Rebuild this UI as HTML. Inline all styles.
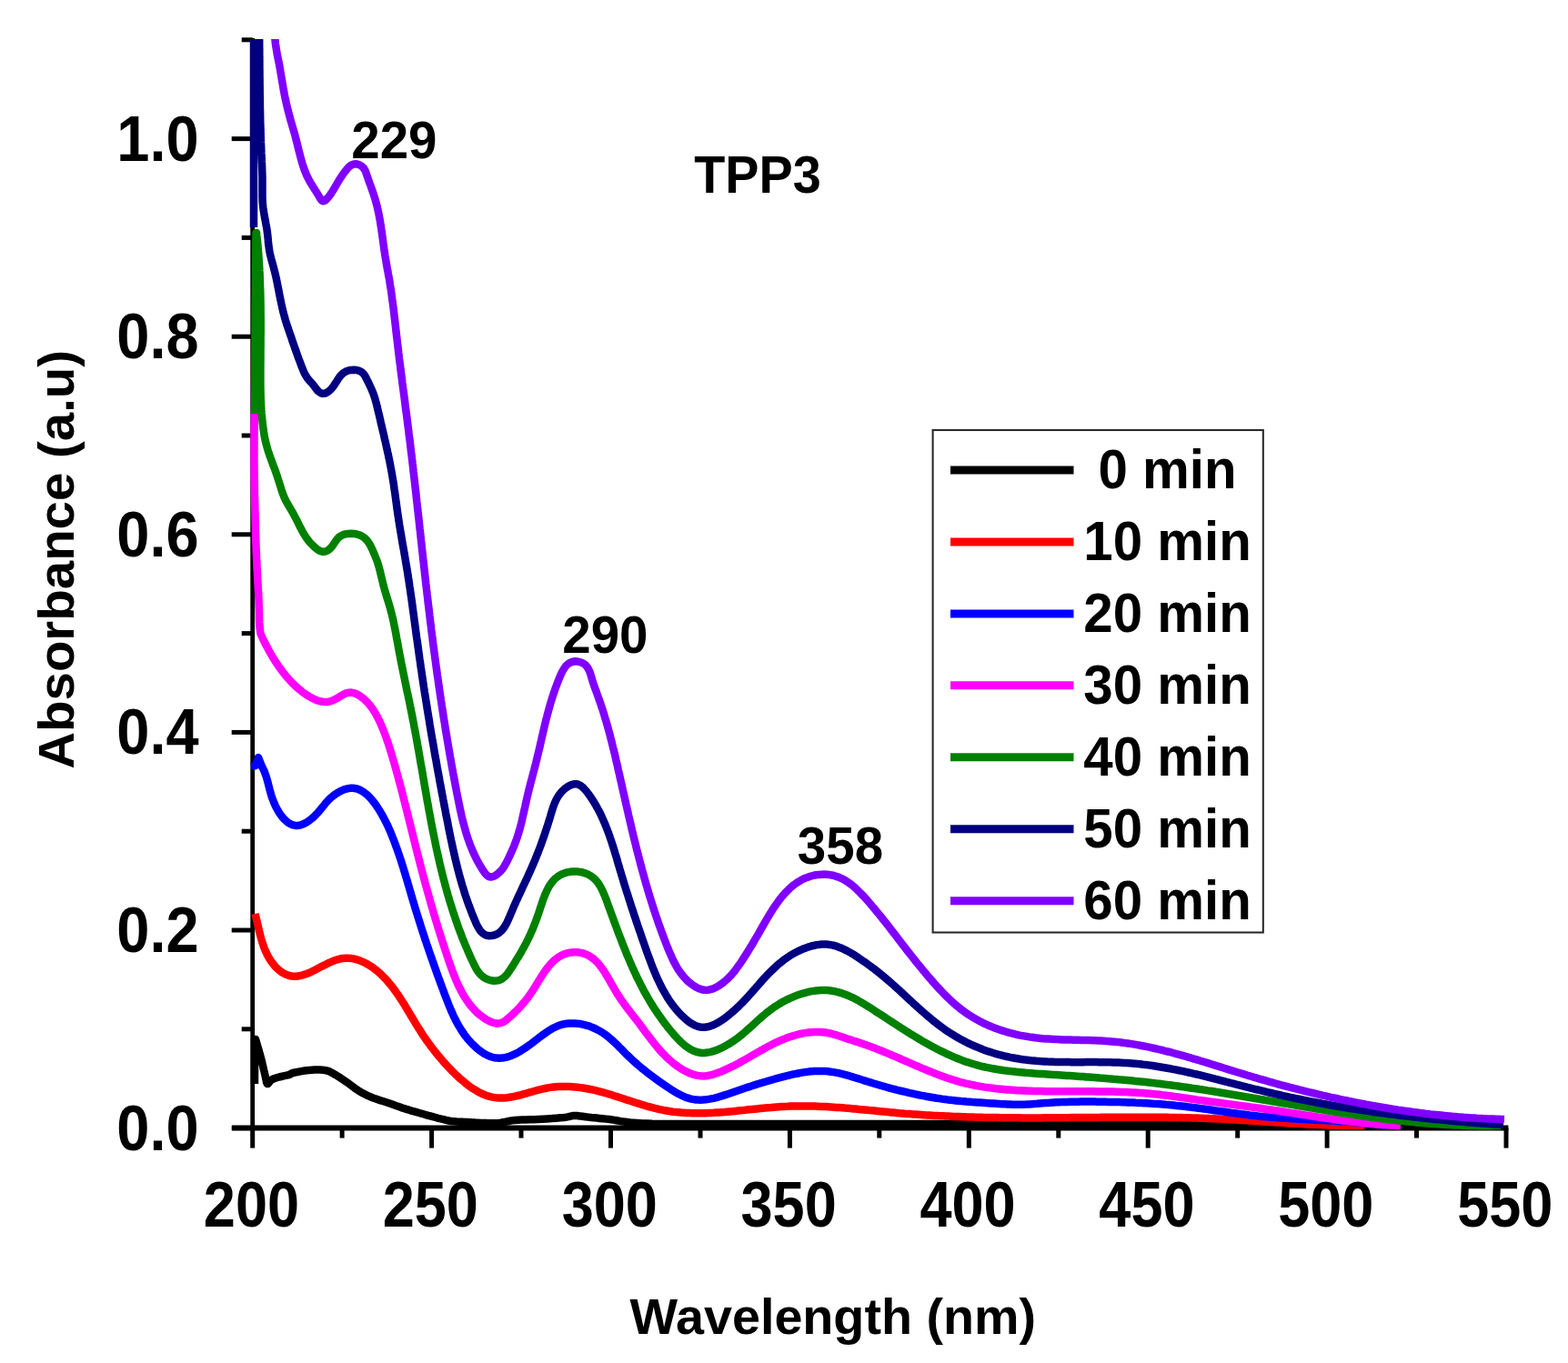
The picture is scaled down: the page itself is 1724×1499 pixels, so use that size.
<!DOCTYPE html>
<html><head><meta charset="utf-8"><style>
html,body{margin:0;padding:0;background:#fff;}
svg{display:block}
text{font-family:'Liberation Sans',Arial,sans-serif;font-weight:bold;fill:#000}
</style></head><body>
<svg width="1724" height="1499" viewBox="0 0 1724 1499">
<rect width="1724" height="1499" fill="#fff"/>
<g stroke="#000" stroke-width="5" fill="none">
<line x1="277.7" y1="42" x2="277.7" y2="1243.0" stroke-width="4.8"/>
<line x1="255" y1="1240.6" x2="1658.4" y2="1240.6" stroke-width="6"/>
<line x1="277.7" y1="1240.6" x2="277.7" y2="1262.6"/><line x1="376.1" y1="1240.6" x2="376.1" y2="1251.6"/><line x1="474.6" y1="1240.6" x2="474.6" y2="1262.6"/><line x1="573.0" y1="1240.6" x2="573.0" y2="1251.6"/><line x1="671.5" y1="1240.6" x2="671.5" y2="1262.6"/><line x1="770.0" y1="1240.6" x2="770.0" y2="1251.6"/><line x1="868.4" y1="1240.6" x2="868.4" y2="1262.6"/><line x1="966.8" y1="1240.6" x2="966.8" y2="1251.6"/><line x1="1065.3" y1="1240.6" x2="1065.3" y2="1262.6"/><line x1="1163.8" y1="1240.6" x2="1163.8" y2="1251.6"/><line x1="1262.2" y1="1240.6" x2="1262.2" y2="1262.6"/><line x1="1360.7" y1="1240.6" x2="1360.7" y2="1251.6"/><line x1="1459.1" y1="1240.6" x2="1459.1" y2="1262.6"/><line x1="1557.5" y1="1240.6" x2="1557.5" y2="1251.6"/><line x1="1656.0" y1="1240.6" x2="1656.0" y2="1262.6"/><line x1="254.7" y1="1240.6" x2="277.7" y2="1240.6"/><line x1="265.7" y1="1131.8" x2="277.7" y2="1131.8"/><line x1="254.7" y1="1023.0" x2="277.7" y2="1023.0"/><line x1="265.7" y1="914.2" x2="277.7" y2="914.2"/><line x1="254.7" y1="805.4" x2="277.7" y2="805.4"/><line x1="265.7" y1="696.6" x2="277.7" y2="696.6"/><line x1="254.7" y1="587.8" x2="277.7" y2="587.8"/><line x1="265.7" y1="479.0" x2="277.7" y2="479.0"/><line x1="254.7" y1="370.2" x2="277.7" y2="370.2"/><line x1="265.7" y1="261.4" x2="277.7" y2="261.4"/><line x1="254.7" y1="152.6" x2="277.7" y2="152.6"/><line x1="265.7" y1="43.8" x2="277.7" y2="43.8"/>
</g>
<defs><clipPath id="pc"><rect x="270" y="43" width="1400" height="1200"/></clipPath></defs>
<g clip-path="url(#pc)" fill="none" stroke-width="8.5" stroke-linejoin="round" stroke-linecap="butt">
<path d="M280.0 1192.0 L280.0 1143.0 L281.0 1143.0 L281.6 1144.9 L282.4 1147.6 L283.3 1150.8 L284.3 1154.1 L285.2 1157.3 L286.0 1160.0 L286.6 1162.3 L287.1 1164.3 L287.6 1166.2 L288.1 1168.1 L288.5 1170.0 L289.0 1172.0 L289.5 1174.2 L290.0 1176.5 L290.6 1178.8 L291.1 1181.1 L291.6 1183.2 L292.0 1185.0 L292.4 1186.6 L292.7 1188.2 L292.9 1189.6 L293.2 1190.7 L293.6 1191.5 L294.0 1192.0 L294.5 1192.0 L295.1 1191.4 L295.7 1190.6 L296.4 1189.7 L297.1 1188.7 L298.0 1188.0 L298.9 1187.4 L299.9 1186.9 L300.9 1186.4 L302.1 1186.0 L303.5 1185.5 L305.0 1185.0 L306.9 1184.5 L309.2 1184.0 L311.7 1183.4 L314.1 1182.9 L316.3 1182.4 L318.0 1182.0 L319.0 1181.6 L319.5 1181.3 L319.7 1181.0 L320.0 1180.7 L320.6 1180.4 L322.0 1180.0 L324.2 1179.5 L327.0 1179.0 L330.2 1178.4 L333.6 1177.8 L336.9 1177.3 L340.0 1177.0 L343.0 1176.8 L346.0 1176.6 L349.0 1176.6 L351.9 1176.6 L354.6 1176.7 L357.0 1177.0 L359.0 1177.4 L360.7 1177.9 L362.2 1178.4 L363.6 1179.1 L365.2 1180.0 L367.0 1181.0 L369.1 1182.2 L371.4 1183.6 L373.8 1185.1 L376.2 1186.7 L378.6 1188.4 L381.0 1190.0 L383.3 1191.6 L385.7 1193.4 L388.0 1195.1 L390.3 1196.9 L392.7 1198.5 L395.0 1200.0 L397.3 1201.4 L399.5 1202.6 L401.8 1203.8 L404.0 1204.9 L406.4 1205.9 L409.0 1207.0 L411.8 1208.1 L414.7 1209.1 L417.8 1210.1 L420.9 1211.0 L424.0 1212.0 L427.0 1213.0 L429.9 1214.0 L432.7 1215.0 L435.6 1216.1 L438.4 1217.1 L441.2 1218.1 L444.0 1219.0 L446.8 1219.9 L449.6 1220.7 L452.4 1221.6 L455.3 1222.4 L458.1 1223.2 L461.0 1224.0 L464.0 1224.8 L467.0 1225.7 L470.0 1226.6 L473.0 1227.4 L476.0 1228.2 L479.0 1229.0 L481.9 1229.8 L484.7 1230.5 L487.5 1231.2 L490.3 1231.9 L493.1 1232.5 L496.0 1233.0 L499.0 1233.3 L502.0 1233.6 L505.0 1233.7 L508.0 1233.8 L511.0 1233.9 L514.0 1234.0 L516.9 1234.2 L519.7 1234.4 L522.6 1234.6 L525.4 1234.7 L528.2 1234.9 L531.0 1235.0 L533.8 1235.1 L536.6 1235.2 L539.4 1235.2 L542.3 1235.3 L545.1 1235.2 L548.0 1235.0 L550.8 1234.7 L553.6 1234.1 L556.4 1233.6 L559.4 1233.0 L562.5 1232.4 L566.0 1232.0 L569.8 1231.7 L574.0 1231.6 L578.4 1231.4 L582.9 1231.3 L587.5 1231.2 L592.0 1231.0 L596.7 1230.7 L601.8 1230.4 L606.9 1230.1 L611.8 1229.7 L616.2 1229.3 L620.0 1229.0 L622.9 1228.6 L625.0 1228.2 L626.6 1227.8 L628.1 1227.4 L629.8 1227.1 L632.0 1227.0 L634.6 1227.1 L637.5 1227.4 L640.5 1227.8 L643.6 1228.2 L646.8 1228.6 L650.0 1229.0 L653.1 1229.3 L656.1 1229.6 L659.2 1229.9 L662.5 1230.2 L666.1 1230.6 L670.0 1231.0 L674.1 1231.6 L678.1 1232.3 L682.5 1233.1 L687.4 1233.8 L693.1 1234.5 L700.0 1235.0 L706.2 1235.4 L711.1 1235.6 L716.9 1235.8 L725.6 1235.9 L739.2 1235.9 L760.0 1236.0 L784.8 1236.0 L811.5 1236.0 L843.1 1236.0 L883.0 1236.0 L934.2 1236.0 L1000.0 1236.0 L1092.1 1236.1 L1210.4 1236.3 L1340.0 1236.5 L1466.3 1236.7 L1574.5 1236.9 L1650.0 1237.0" stroke="#000000"/><path d="M280.5 1005.0 L281.2 1007.8 L281.9 1010.6 L282.6 1013.5 L283.3 1016.4 L283.9 1019.3 L284.6 1022.2 L285.3 1025.2 L286.1 1028.1 L286.8 1031.1 L287.7 1034.1 L288.6 1037.0 L289.6 1039.9 L290.6 1042.8 L291.8 1045.6 L293.1 1048.4 L294.4 1051.1 L295.9 1053.8 L297.6 1056.4 L299.4 1058.9 L301.3 1061.4 L303.3 1063.7 L305.5 1065.8 L307.8 1067.8 L310.2 1069.5 L312.7 1070.9 L315.3 1072.1 L317.9 1073.0 L320.6 1073.5 L323.3 1073.7 L326.1 1073.7 L328.8 1073.3 L331.6 1072.7 L334.3 1071.9 L337.1 1071.0 L339.9 1069.8 L342.7 1068.6 L345.4 1067.2 L348.2 1065.8 L351.0 1064.3 L353.8 1062.8 L356.7 1061.4 L359.5 1059.9 L362.3 1058.6 L365.2 1057.4 L368.1 1056.2 L370.9 1055.3 L373.8 1054.5 L376.8 1054.0 L379.7 1053.7 L382.6 1053.7 L385.6 1053.9 L388.5 1054.4 L391.5 1055.1 L394.4 1056.0 L397.2 1057.1 L400.0 1058.3 L402.8 1059.7 L405.4 1061.2 L408.0 1062.9 L410.5 1064.6 L412.9 1066.4 L415.2 1068.3 L417.5 1070.2 L419.6 1072.3 L421.7 1074.4 L423.8 1076.5 L425.8 1078.7 L427.7 1081.0 L429.6 1083.3 L431.5 1085.6 L433.3 1088.0 L435.0 1090.5 L436.8 1092.9 L438.5 1095.4 L440.1 1097.9 L441.8 1100.5 L443.4 1103.0 L445.0 1105.6 L446.6 1108.2 L448.1 1110.8 L449.7 1113.4 L451.2 1116.0 L452.8 1118.6 L454.4 1121.2 L455.9 1123.8 L457.5 1126.4 L459.1 1129.0 L460.7 1131.5 L462.3 1134.1 L463.9 1136.6 L465.5 1139.1 L467.2 1141.5 L468.9 1144.0 L470.6 1146.4 L472.4 1148.8 L474.1 1151.2 L475.9 1153.5 L477.8 1155.9 L479.6 1158.2 L481.5 1160.5 L483.4 1162.8 L485.4 1165.1 L487.3 1167.4 L489.3 1169.6 L491.4 1171.9 L493.5 1174.1 L495.6 1176.3 L497.8 1178.6 L500.0 1180.7 L502.2 1182.9 L504.5 1185.0 L506.8 1187.1 L509.2 1189.1 L511.6 1191.1 L514.0 1193.0 L516.4 1194.8 L518.9 1196.6 L521.5 1198.2 L524.0 1199.7 L526.6 1201.2 L529.2 1202.5 L531.9 1203.7 L534.6 1204.7 L537.3 1205.6 L540.1 1206.3 L542.9 1206.9 L545.7 1207.3 L548.5 1207.5 L551.4 1207.6 L554.3 1207.5 L557.2 1207.2 L560.2 1206.8 L563.1 1206.3 L566.1 1205.7 L569.1 1205.0 L572.1 1204.3 L575.2 1203.4 L578.2 1202.6 L581.2 1201.7 L584.3 1200.9 L587.3 1200.0 L590.3 1199.2 L593.4 1198.4 L596.4 1197.6 L599.4 1197.0 L602.4 1196.4 L605.4 1195.9 L608.4 1195.5 L611.4 1195.2 L614.4 1195.0 L617.3 1194.9 L620.3 1194.9 L623.2 1194.9 L626.2 1195.0 L629.1 1195.2 L632.0 1195.4 L635.0 1195.7 L637.9 1196.1 L640.8 1196.5 L643.7 1197.0 L646.6 1197.5 L649.5 1198.1 L652.4 1198.7 L655.3 1199.4 L658.2 1200.1 L661.1 1200.9 L664.0 1201.7 L666.9 1202.5 L669.8 1203.4 L672.7 1204.2 L675.6 1205.2 L678.5 1206.1 L681.4 1207.0 L684.3 1208.0 L687.2 1208.9 L690.1 1209.9 L693.0 1210.8 L695.9 1211.8 L698.8 1212.7 L701.8 1213.6 L704.7 1214.6 L707.6 1215.4 L710.5 1216.3 L713.5 1217.1 L716.4 1217.9 L719.3 1218.7 L722.3 1219.4 L725.2 1220.1 L728.1 1220.7 L731.1 1221.3 L734.0 1221.8 L737.0 1222.3 L739.9 1222.7 L742.9 1223.0 L745.9 1223.3 L748.8 1223.6 L751.8 1223.8 L754.8 1224.0 L757.7 1224.1 L760.7 1224.2 L763.7 1224.3 L766.7 1224.3 L769.7 1224.3 L772.7 1224.3 L775.6 1224.2 L778.6 1224.1 L781.6 1223.9 L784.6 1223.8 L787.6 1223.6 L790.6 1223.4 L793.6 1223.2 L796.6 1223.0 L799.6 1222.7 L802.6 1222.4 L805.6 1222.2 L808.6 1221.9 L811.6 1221.6 L814.6 1221.3 L817.6 1221.0 L820.6 1220.6 L823.6 1220.3 L826.7 1220.0 L829.7 1219.7 L832.7 1219.4 L835.7 1219.1 L838.7 1218.8 L841.7 1218.5 L844.7 1218.2 L847.7 1218.0 L850.7 1217.7 L853.7 1217.5 L856.8 1217.3 L859.8 1217.1 L862.8 1216.9 L865.8 1216.8 L868.8 1216.6 L871.8 1216.6 L874.8 1216.5 L877.8 1216.4 L880.8 1216.4 L883.8 1216.4 L886.8 1216.4 L889.8 1216.5 L892.8 1216.6 L895.8 1216.6 L898.8 1216.7 L901.8 1216.9 L904.8 1217.0 L907.8 1217.1 L910.8 1217.3 L913.8 1217.5 L916.8 1217.7 L919.8 1217.9 L922.8 1218.1 L925.8 1218.3 L928.8 1218.6 L931.8 1218.8 L934.8 1219.1 L937.8 1219.4 L940.8 1219.6 L943.8 1219.9 L946.8 1220.2 L949.8 1220.5 L952.8 1220.8 L955.7 1221.1 L958.7 1221.3 L961.7 1221.6 L964.7 1221.9 L967.7 1222.2 L970.7 1222.5 L973.7 1222.8 L976.7 1223.1 L979.7 1223.4 L982.7 1223.6 L985.7 1223.9 L988.7 1224.2 L991.7 1224.4 L994.7 1224.7 L997.7 1224.9 L1000.7 1225.1 L1003.7 1225.4 L1006.7 1225.6 L1009.7 1225.8 L1012.7 1226.0 L1015.7 1226.2 L1018.7 1226.4 L1021.7 1226.5 L1024.7 1226.7 L1027.7 1226.9 L1030.7 1227.0 L1033.7 1227.2 L1036.7 1227.3 L1039.7 1227.5 L1042.7 1227.6 L1045.7 1227.7 L1048.7 1227.9 L1051.7 1228.0 L1054.8 1228.1 L1057.8 1228.2 L1060.8 1228.3 L1063.8 1228.4 L1066.8 1228.5 L1069.8 1228.6 L1072.8 1228.7 L1075.8 1228.7 L1078.8 1228.8 L1081.8 1228.9 L1084.8 1228.9 L1087.8 1229.0 L1090.8 1229.0 L1093.8 1229.1 L1096.9 1229.1 L1099.9 1229.2 L1102.9 1229.2 L1105.9 1229.2 L1108.9 1229.3 L1111.9 1229.3 L1114.9 1229.3 L1117.9 1229.3 L1120.9 1229.3 L1123.9 1229.4 L1126.9 1229.4 L1130.0 1229.4 L1133.0 1229.4 L1136.0 1229.4 L1139.0 1229.4 L1142.0 1229.4 L1145.0 1229.4 L1148.0 1229.3 L1151.0 1229.3 L1154.0 1229.3 L1157.0 1229.3 L1160.1 1229.3 L1163.1 1229.3 L1166.1 1229.2 L1169.1 1229.2 L1172.1 1229.2 L1175.1 1229.2 L1178.1 1229.1 L1181.1 1229.1 L1184.2 1229.1 L1187.2 1229.1 L1190.2 1229.0 L1193.2 1229.0 L1196.2 1229.0 L1199.2 1229.0 L1202.2 1228.9 L1205.2 1228.9 L1208.2 1228.9 L1211.3 1228.8 L1214.3 1228.8 L1217.3 1228.8 L1220.3 1228.8 L1223.3 1228.8 L1226.3 1228.7 L1229.3 1228.7 L1232.3 1228.7 L1235.3 1228.7 L1238.4 1228.7 L1241.4 1228.7 L1244.4 1228.7 L1247.4 1228.7 L1250.4 1228.7 L1253.4 1228.7 L1256.4 1228.7 L1259.4 1228.7 L1262.4 1228.7 L1265.4 1228.7 L1268.5 1228.7 L1271.5 1228.7 L1274.5 1228.8 L1277.5 1228.8 L1280.5 1228.8 L1283.5 1228.8 L1286.5 1228.9 L1289.5 1228.9 L1292.5 1229.0 L1295.5 1229.0 L1298.5 1229.1 L1301.6 1229.2 L1304.6 1229.2 L1307.6 1229.3 L1310.6 1229.4 L1313.6 1229.5 L1316.6 1229.6 L1319.6 1229.7 L1322.6 1229.8 L1325.6 1229.9 L1328.6 1230.0 L1331.6 1230.2 L1334.6 1230.3 L1337.6 1230.4 L1340.6 1230.6 L1343.6 1230.7 L1346.7 1230.9 L1349.7 1231.0 L1352.7 1231.2 L1355.7 1231.4 L1358.7 1231.6 L1361.7 1231.7 L1364.7 1231.9 L1367.7 1232.1 L1370.7 1232.3 L1373.7 1232.5 L1376.7 1232.7 L1379.7 1232.9 L1382.7 1233.1 L1385.7 1233.3 L1388.7 1233.5 L1391.7 1233.7 L1394.7 1233.9 L1397.7 1234.0 L1400.7 1234.2 L1403.7 1234.4 L1406.7 1234.6 L1409.7 1234.8 L1412.7 1235.0 L1415.8 1235.2 L1418.8 1235.4 L1421.8 1235.6 L1424.8 1235.7 L1427.8 1235.9 L1430.8 1236.1 L1433.8 1236.2 L1436.8 1236.4 L1439.8 1236.6 L1442.8 1236.7 L1445.8 1236.8 L1448.8 1237.0 L1451.8 1237.1 L1454.8 1237.2 L1457.8 1237.3 L1460.8 1237.5 L1463.9 1237.5 L1466.9 1237.6 L1469.9 1237.7 L1472.9 1237.8 L1475.9 1237.9 L1478.9 1237.9 L1481.9 1238.0 L1484.9 1238.0 L1487.9 1238.0 L1491.0 1238.0 L1494.0 1238.0 L1497.0 1238.0 L1500.0 1238.0" stroke="#ff0000"/><path d="M276.0 843.0 L281.0 842.0 L284.0 833.0 L288.0 843.0 L288.0 843.0 L289.5 845.9 L290.8 848.8 L291.8 851.6 L292.8 854.4 L293.6 857.2 L294.4 860.0 L295.1 862.7 L295.8 865.5 L296.5 868.3 L297.3 871.1 L298.1 874.0 L299.0 876.9 L300.1 879.8 L301.3 882.8 L302.6 885.8 L304.1 888.8 L305.7 891.7 L307.4 894.5 L309.3 897.1 L311.2 899.5 L313.3 901.7 L315.4 903.6 L317.7 905.3 L320.0 906.5 L322.4 907.4 L324.9 907.9 L327.4 907.9 L330.1 907.5 L332.7 906.6 L335.3 905.4 L338.0 903.8 L340.6 902.0 L343.1 900.0 L345.5 897.8 L347.8 895.5 L350.0 893.1 L352.0 890.8 L353.9 888.4 L355.8 886.1 L357.6 883.8 L359.6 881.5 L361.6 879.3 L363.9 877.2 L366.3 875.2 L368.9 873.3 L371.6 871.6 L374.4 870.0 L377.2 868.8 L380.0 867.8 L382.9 867.1 L385.7 866.7 L388.4 866.8 L391.1 867.2 L393.7 867.9 L396.2 869.0 L398.6 870.4 L401.0 872.0 L403.3 873.8 L405.5 875.9 L407.6 878.1 L409.6 880.5 L411.6 883.0 L413.5 885.6 L415.3 888.3 L417.0 891.0 L418.7 893.7 L420.2 896.4 L421.7 899.1 L423.1 901.8 L424.5 904.5 L425.8 907.1 L427.0 909.8 L428.2 912.5 L429.4 915.2 L430.5 917.9 L431.6 920.7 L432.7 923.4 L433.8 926.2 L434.8 928.9 L435.8 931.7 L436.8 934.5 L437.8 937.4 L438.8 940.2 L439.7 943.0 L440.7 945.9 L441.6 948.8 L442.5 951.6 L443.4 954.5 L444.3 957.4 L445.2 960.3 L446.0 963.2 L446.9 966.1 L447.8 969.0 L448.6 971.9 L449.5 974.8 L450.3 977.7 L451.2 980.6 L452.0 983.5 L452.9 986.5 L453.7 989.4 L454.6 992.3 L455.5 995.2 L456.3 998.0 L457.2 1000.9 L458.1 1003.8 L459.0 1006.7 L459.9 1009.6 L460.8 1012.4 L461.7 1015.3 L462.6 1018.2 L463.5 1021.0 L464.4 1023.9 L465.4 1026.7 L466.3 1029.6 L467.2 1032.4 L468.2 1035.2 L469.1 1038.1 L470.1 1040.9 L471.1 1043.7 L472.0 1046.6 L473.0 1049.4 L474.0 1052.2 L475.0 1055.1 L476.0 1057.9 L477.0 1060.7 L478.0 1063.6 L479.0 1066.4 L480.0 1069.2 L481.0 1072.0 L482.0 1074.9 L483.1 1077.7 L484.1 1080.5 L485.2 1083.4 L486.2 1086.2 L487.3 1089.0 L488.3 1091.9 L489.4 1094.7 L490.5 1097.6 L491.6 1100.4 L492.7 1103.2 L493.8 1106.1 L495.0 1108.9 L496.1 1111.6 L497.4 1114.4 L498.6 1117.2 L500.0 1119.9 L501.3 1122.6 L502.7 1125.2 L504.2 1127.9 L505.7 1130.4 L507.3 1133.0 L509.0 1135.5 L510.7 1138.0 L512.5 1140.4 L514.4 1142.7 L516.4 1145.0 L518.4 1147.3 L520.6 1149.4 L522.8 1151.5 L525.2 1153.6 L527.6 1155.5 L530.1 1157.2 L532.6 1158.9 L535.3 1160.3 L537.9 1161.5 L540.6 1162.5 L543.4 1163.2 L546.1 1163.6 L548.9 1163.7 L551.7 1163.6 L554.4 1163.2 L557.2 1162.6 L560.0 1161.7 L562.8 1160.7 L565.6 1159.5 L568.4 1158.1 L571.1 1156.6 L573.8 1154.9 L576.5 1153.2 L579.2 1151.4 L581.8 1149.5 L584.4 1147.6 L587.0 1145.6 L589.5 1143.7 L592.0 1141.7 L594.5 1139.8 L597.0 1138.0 L599.5 1136.2 L602.0 1134.5 L604.5 1132.8 L607.0 1131.3 L609.6 1130.0 L612.2 1128.8 L614.8 1127.7 L617.5 1126.9 L620.3 1126.2 L623.1 1125.8 L626.0 1125.5 L628.9 1125.4 L631.8 1125.4 L634.7 1125.7 L637.6 1126.0 L640.6 1126.6 L643.5 1127.3 L646.4 1128.1 L649.2 1129.1 L652.1 1130.3 L654.9 1131.5 L657.6 1132.9 L660.3 1134.4 L662.9 1136.0 L665.4 1137.7 L667.8 1139.6 L670.2 1141.5 L672.5 1143.5 L674.7 1145.5 L676.9 1147.6 L679.1 1149.8 L681.2 1151.9 L683.4 1154.1 L685.5 1156.2 L687.6 1158.4 L689.7 1160.5 L691.9 1162.5 L694.0 1164.6 L696.2 1166.6 L698.4 1168.5 L700.6 1170.5 L702.8 1172.4 L705.1 1174.3 L707.4 1176.1 L709.7 1178.0 L712.0 1179.8 L714.4 1181.6 L716.7 1183.4 L719.1 1185.2 L721.6 1187.0 L724.0 1188.7 L726.5 1190.5 L729.0 1192.2 L731.6 1194.0 L734.2 1195.8 L736.8 1197.5 L739.4 1199.2 L742.1 1200.8 L744.8 1202.4 L747.5 1203.8 L750.2 1205.2 L753.0 1206.4 L755.8 1207.4 L758.6 1208.3 L761.5 1208.9 L764.3 1209.4 L767.2 1209.6 L770.1 1209.7 L773.0 1209.6 L776.0 1209.3 L778.9 1208.9 L781.8 1208.4 L784.8 1207.8 L787.7 1207.1 L790.7 1206.2 L793.6 1205.4 L796.6 1204.4 L799.5 1203.4 L802.4 1202.4 L805.3 1201.4 L808.2 1200.4 L811.1 1199.4 L813.9 1198.4 L816.8 1197.4 L819.6 1196.5 L822.4 1195.6 L825.3 1194.7 L828.1 1193.8 L830.9 1192.9 L833.7 1192.0 L836.5 1191.2 L839.3 1190.3 L842.2 1189.5 L845.0 1188.7 L847.9 1187.8 L850.8 1187.0 L853.6 1186.2 L856.6 1185.4 L859.5 1184.6 L862.4 1183.8 L865.4 1183.1 L868.4 1182.4 L871.3 1181.7 L874.3 1181.1 L877.3 1180.5 L880.3 1179.9 L883.3 1179.4 L886.3 1179.0 L889.3 1178.6 L892.3 1178.3 L895.4 1178.1 L898.4 1178.0 L901.3 1177.9 L904.3 1178.0 L907.3 1178.1 L910.3 1178.3 L913.2 1178.7 L916.2 1179.1 L919.1 1179.6 L922.0 1180.2 L925.0 1180.9 L927.9 1181.6 L930.8 1182.4 L933.7 1183.2 L936.6 1184.1 L939.5 1185.0 L942.4 1185.9 L945.3 1186.8 L948.2 1187.7 L951.0 1188.6 L953.9 1189.5 L956.8 1190.4 L959.7 1191.3 L962.6 1192.2 L965.5 1193.0 L968.4 1193.8 L971.3 1194.7 L974.2 1195.5 L977.1 1196.3 L980.0 1197.1 L982.9 1197.8 L985.8 1198.6 L988.7 1199.3 L991.7 1200.0 L994.6 1200.7 L997.5 1201.4 L1000.4 1202.1 L1003.3 1202.7 L1006.3 1203.4 L1009.2 1204.0 L1012.1 1204.6 L1015.1 1205.1 L1018.0 1205.7 L1021.0 1206.2 L1023.9 1206.7 L1026.9 1207.2 L1029.8 1207.7 L1032.8 1208.1 L1035.7 1208.6 L1038.7 1209.0 L1041.7 1209.4 L1044.7 1209.7 L1047.6 1210.1 L1050.6 1210.4 L1053.6 1210.7 L1056.6 1211.0 L1059.6 1211.2 L1062.6 1211.5 L1065.6 1211.7 L1068.6 1212.0 L1071.6 1212.2 L1074.6 1212.4 L1077.6 1212.6 L1080.6 1212.8 L1083.6 1213.0 L1086.6 1213.2 L1089.6 1213.4 L1092.6 1213.6 L1095.6 1213.8 L1098.6 1214.0 L1101.6 1214.2 L1104.6 1214.3 L1107.6 1214.5 L1110.6 1214.6 L1113.6 1214.7 L1116.5 1214.8 L1119.5 1214.8 L1122.5 1214.8 L1125.5 1214.7 L1128.4 1214.6 L1131.4 1214.4 L1134.4 1214.2 L1137.3 1214.0 L1140.3 1213.8 L1143.3 1213.5 L1146.2 1213.3 L1149.2 1213.1 L1152.2 1212.9 L1155.2 1212.7 L1158.2 1212.5 L1161.2 1212.3 L1164.2 1212.2 L1167.2 1212.1 L1170.2 1212.0 L1173.2 1211.9 L1176.2 1211.8 L1179.3 1211.7 L1182.3 1211.7 L1185.3 1211.7 L1188.3 1211.6 L1191.3 1211.6 L1194.4 1211.6 L1197.4 1211.6 L1200.4 1211.6 L1203.5 1211.6 L1206.5 1211.7 L1209.5 1211.7 L1212.5 1211.7 L1215.6 1211.8 L1218.6 1211.9 L1221.6 1211.9 L1224.6 1212.0 L1227.6 1212.1 L1230.6 1212.1 L1233.6 1212.2 L1236.6 1212.3 L1239.7 1212.4 L1242.7 1212.5 L1245.7 1212.6 L1248.7 1212.8 L1251.7 1212.9 L1254.7 1213.0 L1257.6 1213.2 L1260.6 1213.3 L1263.6 1213.5 L1266.6 1213.7 L1269.6 1213.9 L1272.6 1214.1 L1275.6 1214.3 L1278.6 1214.5 L1281.6 1214.8 L1284.5 1215.0 L1287.5 1215.3 L1290.5 1215.6 L1293.5 1215.9 L1296.5 1216.2 L1299.5 1216.5 L1302.4 1216.8 L1305.4 1217.2 L1308.4 1217.6 L1311.4 1217.9 L1314.4 1218.3 L1317.3 1218.7 L1320.3 1219.1 L1323.3 1219.5 L1326.3 1219.9 L1329.3 1220.3 L1332.2 1220.7 L1335.2 1221.2 L1338.2 1221.6 L1341.2 1222.0 L1344.2 1222.4 L1347.1 1222.8 L1350.1 1223.2 L1353.1 1223.7 L1356.1 1224.1 L1359.1 1224.5 L1362.0 1224.9 L1365.0 1225.3 L1368.0 1225.6 L1371.0 1226.0 L1374.0 1226.4 L1377.0 1226.7 L1380.0 1227.0 L1383.0 1227.4 L1386.0 1227.7 L1388.9 1227.9 L1391.9 1228.2 L1394.9 1228.5 L1397.9 1228.7 L1400.9 1229.0 L1403.9 1229.2 L1406.9 1229.4 L1409.9 1229.6 L1412.9 1229.8 L1415.9 1230.0 L1418.9 1230.2 L1421.9 1230.4 L1425.0 1230.6 L1428.0 1230.7 L1431.0 1230.9 L1434.0 1231.0 L1437.0 1231.2 L1440.0 1231.4 L1443.0 1231.5 L1446.0 1231.7 L1449.0 1231.8 L1452.0 1232.0 L1455.0 1232.1 L1458.0 1232.3 L1461.0 1232.5 L1464.0 1232.6 L1467.0 1232.8 L1470.0 1233.0 L1473.1 1233.2 L1476.1 1233.3 L1479.1 1233.5 L1482.1 1233.8 L1485.1 1234.0 L1488.1 1234.2 L1491.1 1234.4 L1494.1 1234.7 L1497.1 1235.0 L1500.1 1235.2 L1503.1 1235.5 L1506.1 1235.8 L1509.0 1236.1 L1512.0 1236.5 L1515.0 1236.8 L1518.0 1237.2 L1521.0 1237.6 L1524.0 1238.0" stroke="#0000ff"/><path d="M281.5 448.0 L281.3 448.5 L281.0 448.7 L280.7 449.1 L280.3 450.4 L280.0 453.2 L279.8 458.0 L279.7 465.1 L279.5 474.1 L279.5 484.6 L279.5 496.1 L279.5 508.0 L279.6 520.0 L279.8 532.5 L280.0 546.1 L280.4 560.1 L280.7 574.1 L281.1 587.6 L281.5 600.0 L282.0 611.6 L282.5 622.8 L283.1 633.4 L283.6 643.3 L284.1 652.3 L284.5 660.0 L284.7 666.3 L284.9 671.4 L285.0 675.5 L285.0 678.9 L285.1 682.0 L285.2 685.0 L285.4 687.9 L285.6 690.4 L285.9 692.6 L286.1 694.4 L286.4 695.8 L286.5 697.0 L286.5 697.0 L287.7 699.6 L288.9 702.2 L290.2 704.9 L291.5 707.5 L292.9 710.2 L294.3 712.8 L295.7 715.5 L297.2 718.1 L298.7 720.8 L300.3 723.4 L301.9 726.0 L303.6 728.6 L305.3 731.2 L307.1 733.7 L308.9 736.2 L310.7 738.7 L312.6 741.1 L314.5 743.5 L316.5 745.8 L318.5 748.0 L320.6 750.3 L322.7 752.4 L324.9 754.5 L327.1 756.5 L329.4 758.4 L331.7 760.3 L334.1 762.1 L336.5 763.8 L339.0 765.4 L341.5 766.9 L344.1 768.2 L346.7 769.5 L349.3 770.5 L352.0 771.3 L354.8 771.8 L357.6 772.0 L360.4 771.9 L363.2 771.3 L366.1 770.3 L369.0 768.8 L371.9 767.1 L374.8 765.3 L377.7 763.7 L380.6 762.4 L383.4 761.7 L386.2 761.6 L388.9 762.1 L391.6 763.0 L394.2 764.4 L396.6 766.0 L399.0 767.8 L401.2 769.7 L403.3 771.8 L405.3 774.0 L407.2 776.3 L409.0 778.7 L410.7 781.2 L412.3 783.8 L413.8 786.5 L415.3 789.2 L416.7 791.9 L418.0 794.7 L419.2 797.6 L420.4 800.4 L421.6 803.2 L422.7 806.1 L423.7 808.9 L424.8 811.7 L425.7 814.5 L426.7 817.3 L427.6 820.1 L428.5 822.9 L429.4 825.7 L430.3 828.5 L431.1 831.3 L431.9 834.2 L432.8 837.0 L433.6 839.8 L434.4 842.7 L435.2 845.5 L436.0 848.4 L436.8 851.3 L437.6 854.2 L438.3 857.1 L439.1 860.0 L439.9 862.9 L440.7 865.8 L441.4 868.7 L442.2 871.6 L442.9 874.5 L443.7 877.5 L444.4 880.4 L445.2 883.3 L445.9 886.3 L446.7 889.2 L447.4 892.2 L448.1 895.1 L448.9 898.0 L449.6 901.0 L450.3 903.9 L451.1 906.9 L451.8 909.8 L452.5 912.8 L453.3 915.7 L454.0 918.7 L454.7 921.6 L455.5 924.5 L456.2 927.5 L456.9 930.4 L457.7 933.3 L458.4 936.3 L459.1 939.2 L459.9 942.1 L460.6 945.0 L461.4 947.9 L462.1 950.8 L462.9 953.7 L463.6 956.6 L464.4 959.5 L465.1 962.3 L465.9 965.2 L466.7 968.1 L467.4 970.9 L468.2 973.8 L469.0 976.7 L469.8 979.5 L470.6 982.4 L471.4 985.2 L472.2 988.1 L473.0 990.9 L473.8 993.8 L474.6 996.6 L475.5 999.5 L476.3 1002.3 L477.1 1005.2 L478.0 1008.0 L478.8 1010.9 L479.7 1013.7 L480.6 1016.6 L481.4 1019.5 L482.3 1022.3 L483.2 1025.2 L484.1 1028.1 L485.0 1031.0 L485.9 1033.8 L486.9 1036.7 L487.8 1039.6 L488.8 1042.5 L489.7 1045.4 L490.7 1048.4 L491.7 1051.3 L492.6 1054.2 L493.6 1057.2 L494.6 1060.1 L495.7 1063.0 L496.7 1065.9 L497.8 1068.9 L498.9 1071.7 L500.1 1074.6 L501.2 1077.5 L502.5 1080.3 L503.7 1083.1 L505.0 1085.8 L506.4 1088.5 L507.8 1091.2 L509.2 1093.8 L510.7 1096.3 L512.3 1098.8 L514.0 1101.3 L515.7 1103.6 L517.4 1105.9 L519.3 1108.1 L521.2 1110.3 L523.2 1112.3 L525.3 1114.3 L527.5 1116.2 L529.8 1117.9 L532.2 1119.6 L534.6 1121.2 L537.2 1122.6 L539.8 1123.9 L542.5 1124.8 L545.3 1125.4 L548.0 1125.5 L550.8 1125.1 L553.5 1124.1 L556.1 1122.3 L558.7 1120.1 L561.2 1117.9 L563.6 1115.6 L565.9 1113.4 L568.1 1111.3 L570.2 1109.1 L572.2 1107.0 L574.1 1104.8 L576.0 1102.6 L577.8 1100.4 L579.6 1098.2 L581.3 1095.8 L583.0 1093.4 L584.7 1091.0 L586.3 1088.4 L588.0 1085.8 L589.6 1083.1 L591.3 1080.4 L592.9 1077.7 L594.6 1075.0 L596.3 1072.3 L598.1 1069.7 L599.9 1067.1 L601.8 1064.6 L603.7 1062.2 L605.7 1059.9 L607.8 1057.7 L610.0 1055.7 L612.3 1053.9 L614.6 1052.3 L617.1 1050.8 L619.7 1049.6 L622.5 1048.7 L625.3 1047.9 L628.2 1047.5 L631.2 1047.3 L634.1 1047.3 L637.1 1047.6 L639.9 1048.1 L642.7 1048.9 L645.3 1050.0 L647.8 1051.3 L650.2 1052.8 L652.5 1054.5 L654.6 1056.4 L656.7 1058.5 L658.7 1060.7 L660.5 1063.1 L662.3 1065.5 L664.1 1068.1 L665.8 1070.8 L667.4 1073.5 L669.1 1076.3 L670.7 1079.1 L672.2 1081.9 L673.8 1084.7 L675.4 1087.4 L677.0 1090.1 L678.6 1092.8 L680.3 1095.4 L681.9 1097.9 L683.6 1100.4 L685.4 1102.8 L687.1 1105.2 L688.8 1107.5 L690.6 1109.9 L692.4 1112.2 L694.1 1114.5 L695.9 1116.8 L697.7 1119.1 L699.5 1121.4 L701.3 1123.7 L703.1 1126.0 L704.8 1128.4 L706.6 1130.8 L708.4 1133.2 L710.2 1135.6 L712.0 1138.0 L713.8 1140.4 L715.6 1142.8 L717.5 1145.2 L719.4 1147.6 L721.3 1149.9 L723.2 1152.3 L725.2 1154.6 L727.2 1156.8 L729.3 1159.1 L731.4 1161.2 L733.6 1163.4 L735.8 1165.4 L738.1 1167.4 L740.4 1169.4 L742.9 1171.2 L745.3 1173.0 L747.9 1174.7 L750.6 1176.4 L753.3 1177.9 L756.0 1179.2 L758.9 1180.5 L761.7 1181.5 L764.6 1182.3 L767.6 1182.9 L770.5 1183.3 L773.4 1183.4 L776.4 1183.2 L779.3 1182.7 L782.2 1182.1 L785.1 1181.3 L788.0 1180.3 L790.8 1179.3 L793.7 1178.2 L796.4 1177.0 L799.2 1175.7 L801.9 1174.5 L804.6 1173.1 L807.3 1171.8 L810.0 1170.4 L812.6 1169.0 L815.2 1167.5 L817.8 1166.1 L820.4 1164.6 L823.0 1163.1 L825.6 1161.6 L828.2 1160.1 L830.8 1158.6 L833.4 1157.1 L836.0 1155.6 L838.6 1154.2 L841.2 1152.7 L843.9 1151.3 L846.5 1149.9 L849.2 1148.5 L851.9 1147.2 L854.6 1145.9 L857.3 1144.7 L860.1 1143.5 L862.9 1142.4 L865.7 1141.3 L868.6 1140.3 L871.5 1139.4 L874.4 1138.5 L877.4 1137.7 L880.3 1137.0 L883.3 1136.4 L886.3 1135.9 L889.3 1135.5 L892.3 1135.2 L895.3 1135.0 L898.3 1135.0 L901.2 1135.0 L904.2 1135.2 L907.2 1135.5 L910.1 1136.0 L913.0 1136.5 L915.9 1137.3 L918.8 1138.1 L921.6 1139.0 L924.5 1140.0 L927.3 1140.9 L930.2 1141.9 L933.0 1142.9 L935.9 1143.8 L938.7 1144.7 L941.6 1145.6 L944.4 1146.6 L947.3 1147.5 L950.1 1148.5 L952.9 1149.4 L955.7 1150.4 L958.5 1151.5 L961.3 1152.5 L964.1 1153.6 L966.9 1154.7 L969.7 1155.8 L972.5 1157.0 L975.3 1158.1 L978.1 1159.3 L980.8 1160.5 L983.6 1161.6 L986.4 1162.8 L989.1 1164.0 L991.9 1165.3 L994.7 1166.5 L997.4 1167.7 L1000.2 1168.9 L1002.9 1170.1 L1005.7 1171.3 L1008.5 1172.5 L1011.2 1173.7 L1014.0 1174.9 L1016.8 1176.0 L1019.6 1177.2 L1022.4 1178.3 L1025.1 1179.4 L1027.9 1180.5 L1030.7 1181.6 L1033.6 1182.7 L1036.4 1183.7 L1039.2 1184.7 L1042.0 1185.7 L1044.9 1186.6 L1047.7 1187.5 L1050.6 1188.4 L1053.4 1189.3 L1056.3 1190.1 L1059.2 1190.8 L1062.1 1191.6 L1065.0 1192.2 L1067.9 1192.9 L1070.9 1193.5 L1073.8 1194.1 L1076.8 1194.6 L1079.7 1195.1 L1082.7 1195.6 L1085.7 1196.0 L1088.7 1196.4 L1091.6 1196.8 L1094.6 1197.2 L1097.6 1197.5 L1100.6 1197.8 L1103.7 1198.1 L1106.7 1198.4 L1109.7 1198.6 L1112.7 1198.8 L1115.7 1199.0 L1118.7 1199.2 L1121.8 1199.3 L1124.8 1199.5 L1127.8 1199.6 L1130.8 1199.7 L1133.8 1199.8 L1136.9 1199.9 L1139.9 1200.0 L1142.9 1200.1 L1145.9 1200.1 L1148.9 1200.2 L1151.9 1200.2 L1155.0 1200.2 L1158.0 1200.3 L1161.0 1200.3 L1164.0 1200.3 L1167.0 1200.3 L1170.0 1200.3 L1173.0 1200.3 L1176.0 1200.3 L1179.0 1200.3 L1182.0 1200.3 L1185.0 1200.3 L1188.0 1200.3 L1191.1 1200.3 L1194.1 1200.3 L1197.1 1200.3 L1200.1 1200.3 L1203.1 1200.3 L1206.1 1200.4 L1209.1 1200.4 L1212.1 1200.4 L1215.1 1200.5 L1218.1 1200.5 L1221.1 1200.6 L1224.1 1200.6 L1227.0 1200.7 L1230.0 1200.8 L1233.0 1200.9 L1236.0 1201.0 L1239.0 1201.1 L1242.0 1201.2 L1245.0 1201.4 L1248.0 1201.5 L1251.0 1201.7 L1254.0 1201.9 L1257.0 1202.1 L1260.0 1202.4 L1262.9 1202.6 L1265.9 1202.9 L1268.9 1203.2 L1271.9 1203.5 L1274.9 1203.8 L1277.9 1204.2 L1280.9 1204.5 L1283.8 1204.9 L1286.8 1205.3 L1289.8 1205.7 L1292.8 1206.1 L1295.8 1206.5 L1298.7 1207.0 L1301.7 1207.4 L1304.7 1207.8 L1307.7 1208.3 L1310.7 1208.7 L1313.6 1209.1 L1316.6 1209.6 L1319.6 1210.0 L1322.6 1210.4 L1325.5 1210.8 L1328.5 1211.2 L1331.5 1211.6 L1334.5 1212.0 L1337.5 1212.4 L1340.4 1212.8 L1343.4 1213.2 L1346.4 1213.6 L1349.3 1214.0 L1352.3 1214.4 L1355.3 1214.8 L1358.3 1215.2 L1361.2 1215.6 L1364.2 1216.0 L1367.2 1216.4 L1370.2 1216.8 L1373.1 1217.2 L1376.1 1217.6 L1379.1 1218.0 L1382.0 1218.4 L1385.0 1218.8 L1388.0 1219.3 L1390.9 1219.7 L1393.9 1220.1 L1396.9 1220.5 L1399.9 1221.0 L1402.8 1221.4 L1405.8 1221.8 L1408.8 1222.3 L1411.7 1222.7 L1414.7 1223.2 L1417.7 1223.6 L1420.6 1224.1 L1423.6 1224.5 L1426.6 1225.0 L1429.5 1225.5 L1432.5 1225.9 L1435.5 1226.4 L1438.5 1226.8 L1441.4 1227.3 L1444.4 1227.7 L1447.4 1228.2 L1450.4 1228.6 L1453.3 1229.1 L1456.3 1229.5 L1459.3 1230.0 L1462.3 1230.4 L1465.2 1230.8 L1468.2 1231.2 L1471.2 1231.7 L1474.2 1232.1 L1477.1 1232.5 L1480.1 1232.8 L1483.1 1233.2 L1486.1 1233.6 L1489.1 1233.9 L1492.1 1234.3 L1495.0 1234.6 L1498.0 1235.0 L1501.0 1235.3 L1504.0 1235.6 L1507.0 1235.9 L1510.0 1236.1 L1513.0 1236.4 L1516.0 1236.6 L1519.0 1236.9 L1522.0 1237.1 L1525.0 1237.3 L1528.0 1237.5 L1531.0 1237.6 L1534.0 1237.8 L1537.0 1237.9 L1540.0 1238.0" stroke="#ff00ff"/><path d="M280.2 455.0 L280.6 350.0 L281.5 256.0 L282.0 256.0 L282.3 259.0 L282.7 262.0 L283.0 265.0 L283.3 268.0 L283.5 271.0 L283.8 274.0 L284.0 277.0 L284.3 280.0 L284.5 283.0 L284.7 286.0 L284.9 289.0 L285.1 292.0 L285.3 295.0 L285.4 298.0 L285.6 301.0 L285.7 304.0 L285.8 307.0 L285.9 310.0 L286.0 313.0 L286.1 316.0 L286.2 319.0 L286.3 322.0 L286.4 325.0 L286.4 328.0 L286.5 331.0 L286.5 334.0 L286.6 337.0 L286.6 340.0 L286.6 343.1 L286.6 346.1 L286.7 349.1 L286.7 352.1 L286.7 355.1 L286.7 358.1 L286.7 361.1 L286.7 364.1 L286.7 367.1 L286.6 370.1 L286.6 373.1 L286.6 376.2 L286.6 379.2 L286.6 382.2 L286.5 385.2 L286.5 388.2 L286.5 391.2 L286.5 394.2 L286.5 397.2 L286.4 400.2 L286.4 403.2 L286.4 406.2 L286.4 409.2 L286.4 412.2 L286.4 415.3 L286.4 418.3 L286.4 421.3 L286.4 424.3 L286.5 427.3 L286.5 430.3 L286.6 433.3 L286.7 436.3 L286.8 439.3 L286.9 442.3 L287.1 445.3 L287.2 448.3 L287.4 451.3 L287.6 454.3 L287.9 457.3 L288.2 460.3 L288.5 463.3 L288.8 466.3 L289.2 469.3 L289.6 472.2 L290.0 475.2 L290.5 478.2 L291.0 481.2 L291.6 484.1 L292.3 487.0 L293.1 489.9 L293.9 492.8 L294.7 495.7 L295.7 498.5 L296.6 501.4 L297.7 504.2 L298.7 507.0 L299.7 509.9 L300.8 512.7 L301.9 515.5 L302.9 518.3 L303.9 521.2 L304.9 524.0 L305.8 526.9 L306.7 529.8 L307.6 532.6 L308.5 535.5 L309.4 538.4 L310.3 541.2 L311.4 544.1 L312.5 546.8 L313.7 549.6 L315.1 552.2 L316.6 554.9 L318.1 557.4 L319.7 560.0 L321.2 562.6 L322.7 565.3 L324.1 567.9 L325.5 570.6 L326.9 573.3 L328.2 576.0 L329.5 578.7 L330.9 581.3 L332.3 584.0 L333.8 586.6 L335.3 589.1 L337.0 591.6 L338.7 594.0 L340.6 596.4 L342.7 598.6 L344.9 600.8 L347.3 602.9 L349.8 604.8 L352.4 606.2 L355.1 606.9 L357.8 606.5 L360.4 605.3 L362.8 603.5 L364.9 601.2 L366.8 598.6 L368.5 595.9 L370.3 593.4 L372.2 591.2 L374.5 589.5 L377.1 588.2 L379.9 587.4 L383.0 586.9 L386.1 586.7 L389.2 586.9 L392.3 587.5 L395.2 588.3 L397.9 589.6 L400.3 591.3 L402.5 593.2 L404.4 595.5 L406.1 597.9 L407.6 600.6 L408.9 603.3 L410.2 606.2 L411.4 609.0 L412.5 611.8 L413.6 614.5 L414.7 617.3 L415.6 620.1 L416.5 623.0 L417.3 625.9 L418.0 628.8 L418.7 631.7 L419.4 634.7 L420.1 637.6 L420.8 640.6 L421.5 643.5 L422.3 646.4 L423.1 649.3 L424.0 652.2 L424.8 655.1 L425.7 657.9 L426.6 660.8 L427.5 663.7 L428.3 666.6 L429.2 669.5 L429.9 672.4 L430.7 675.3 L431.4 678.2 L432.1 681.1 L432.7 684.0 L433.3 687.0 L433.9 689.9 L434.5 692.9 L435.1 695.8 L435.6 698.8 L436.1 701.8 L436.7 704.7 L437.2 707.7 L437.8 710.7 L438.3 713.6 L438.8 716.6 L439.4 719.5 L440.0 722.5 L440.5 725.4 L441.1 728.4 L441.7 731.3 L442.3 734.3 L442.9 737.2 L443.5 740.2 L444.1 743.1 L444.7 746.0 L445.3 749.0 L445.9 751.9 L446.5 754.9 L447.1 757.8 L447.7 760.7 L448.4 763.7 L449.0 766.6 L449.6 769.5 L450.2 772.5 L450.8 775.4 L451.4 778.4 L452.0 781.3 L452.6 784.3 L453.2 787.2 L453.7 790.2 L454.3 793.1 L454.9 796.1 L455.4 799.0 L456.0 802.0 L456.5 804.9 L457.1 807.9 L457.6 810.8 L458.2 813.8 L458.7 816.8 L459.2 819.7 L459.7 822.7 L460.3 825.7 L460.8 828.6 L461.3 831.6 L461.8 834.6 L462.3 837.5 L462.8 840.5 L463.4 843.5 L463.9 846.4 L464.4 849.4 L464.9 852.4 L465.4 855.3 L465.9 858.3 L466.4 861.3 L466.9 864.3 L467.4 867.2 L468.0 870.2 L468.5 873.2 L469.0 876.1 L469.5 879.1 L470.0 882.1 L470.6 885.0 L471.1 888.0 L471.6 891.0 L472.2 893.9 L472.7 896.9 L473.3 899.8 L473.8 902.8 L474.4 905.8 L474.9 908.7 L475.5 911.7 L476.1 914.6 L476.7 917.6 L477.3 920.5 L477.9 923.5 L478.5 926.4 L479.1 929.4 L479.7 932.3 L480.3 935.2 L481.0 938.2 L481.6 941.1 L482.3 944.0 L482.9 947.0 L483.6 949.9 L484.3 952.8 L485.0 955.7 L485.7 958.6 L486.4 961.5 L487.2 964.5 L487.9 967.4 L488.7 970.3 L489.4 973.2 L490.2 976.1 L491.0 978.9 L491.8 981.8 L492.6 984.7 L493.5 987.6 L494.3 990.5 L495.2 993.3 L496.1 996.2 L497.0 999.1 L497.9 1001.9 L498.8 1004.8 L499.8 1007.6 L500.7 1010.5 L501.7 1013.3 L502.7 1016.2 L503.7 1019.0 L504.7 1021.8 L505.8 1024.6 L506.9 1027.4 L507.9 1030.2 L509.0 1033.1 L510.2 1035.8 L511.3 1038.6 L512.5 1041.4 L513.7 1044.2 L514.9 1047.0 L516.1 1049.7 L517.3 1052.5 L518.6 1055.3 L519.9 1058.0 L521.2 1060.8 L522.6 1063.5 L524.0 1066.1 L525.7 1068.6 L527.5 1070.9 L529.6 1073.0 L531.9 1074.8 L534.5 1076.4 L537.3 1077.5 L540.2 1078.3 L543.1 1078.7 L545.9 1078.6 L548.6 1078.1 L551.2 1077.0 L553.5 1075.4 L555.7 1073.5 L557.7 1071.2 L559.6 1068.6 L561.4 1065.9 L563.2 1063.2 L564.9 1060.4 L566.6 1057.7 L568.2 1055.0 L569.9 1052.4 L571.4 1049.8 L573.0 1047.2 L574.4 1044.6 L575.8 1042.1 L577.2 1039.5 L578.6 1037.0 L579.8 1034.4 L581.1 1031.9 L582.3 1029.3 L583.5 1026.7 L584.6 1024.1 L585.8 1021.4 L586.9 1018.7 L587.9 1016.0 L589.0 1013.3 L590.0 1010.5 L591.0 1007.6 L592.1 1004.7 L593.1 1001.7 L594.0 998.6 L595.1 995.6 L596.1 992.5 L597.2 989.4 L598.3 986.4 L599.5 983.4 L600.8 980.5 L602.2 977.7 L603.6 975.0 L605.2 972.4 L607.0 970.1 L608.9 967.9 L610.9 965.8 L613.2 964.1 L615.6 962.5 L618.1 961.2 L620.9 960.2 L623.7 959.4 L626.6 958.8 L629.5 958.5 L632.5 958.5 L635.5 958.6 L638.4 959.0 L641.3 959.7 L644.1 960.6 L646.7 961.7 L649.2 963.1 L651.5 964.7 L653.6 966.5 L655.6 968.5 L657.3 970.7 L658.9 973.1 L660.4 975.6 L661.8 978.2 L663.1 981.0 L664.3 983.8 L665.5 986.7 L666.6 989.6 L667.7 992.6 L668.7 995.5 L669.8 998.4 L670.9 1001.4 L671.9 1004.3 L673.0 1007.2 L674.1 1010.1 L675.1 1013.0 L676.2 1015.9 L677.3 1018.8 L678.3 1021.6 L679.4 1024.5 L680.5 1027.4 L681.6 1030.2 L682.7 1033.0 L683.7 1035.9 L684.8 1038.7 L686.0 1041.5 L687.1 1044.3 L688.2 1047.1 L689.3 1049.9 L690.5 1052.6 L691.7 1055.4 L692.8 1058.1 L694.0 1060.9 L695.2 1063.6 L696.5 1066.3 L697.7 1069.0 L699.0 1071.7 L700.2 1074.4 L701.5 1077.1 L702.9 1079.7 L704.2 1082.4 L705.6 1085.0 L706.9 1087.6 L708.3 1090.3 L709.8 1092.9 L711.2 1095.4 L712.7 1098.0 L714.2 1100.6 L715.7 1103.1 L717.3 1105.6 L718.9 1108.2 L720.5 1110.7 L722.2 1113.2 L723.8 1115.6 L725.6 1118.1 L727.3 1120.5 L729.1 1123.0 L730.9 1125.4 L732.8 1127.8 L734.6 1130.2 L736.6 1132.6 L738.5 1134.9 L740.5 1137.3 L742.6 1139.6 L744.7 1141.9 L746.8 1144.1 L749.0 1146.2 L751.2 1148.3 L753.5 1150.2 L755.9 1151.9 L758.3 1153.5 L760.8 1154.9 L763.3 1156.0 L766.0 1156.9 L768.7 1157.6 L771.5 1157.9 L774.4 1157.9 L777.4 1157.6 L780.4 1157.1 L783.4 1156.4 L786.5 1155.4 L789.5 1154.2 L792.5 1152.9 L795.5 1151.5 L798.3 1149.9 L801.1 1148.3 L803.8 1146.6 L806.4 1144.9 L809.0 1143.1 L811.4 1141.3 L813.8 1139.4 L816.1 1137.6 L818.4 1135.6 L820.6 1133.7 L822.8 1131.7 L825.0 1129.8 L827.2 1127.8 L829.3 1125.8 L831.4 1123.9 L833.6 1121.9 L835.8 1120.0 L838.0 1118.0 L840.2 1116.1 L842.5 1114.2 L844.8 1112.4 L847.2 1110.6 L849.6 1108.8 L852.1 1107.1 L854.6 1105.5 L857.3 1103.8 L859.9 1102.3 L862.6 1100.8 L865.4 1099.4 L868.1 1098.1 L871.0 1096.8 L873.8 1095.6 L876.7 1094.5 L879.6 1093.5 L882.5 1092.6 L885.4 1091.8 L888.4 1091.0 L891.3 1090.4 L894.3 1089.9 L897.2 1089.5 L900.2 1089.2 L903.1 1089.1 L906.0 1089.0 L908.9 1089.1 L911.8 1089.3 L914.7 1089.7 L917.5 1090.2 L920.4 1090.8 L923.1 1091.6 L925.9 1092.4 L928.7 1093.4 L931.4 1094.5 L934.1 1095.7 L936.8 1096.9 L939.5 1098.2 L942.1 1099.6 L944.8 1101.1 L947.4 1102.6 L950.0 1104.2 L952.7 1105.8 L955.3 1107.4 L957.9 1109.0 L960.5 1110.7 L963.0 1112.4 L965.6 1114.1 L968.2 1115.7 L970.8 1117.4 L973.3 1119.1 L975.9 1120.8 L978.5 1122.5 L981.0 1124.1 L983.6 1125.8 L986.2 1127.5 L988.7 1129.1 L991.3 1130.8 L993.9 1132.4 L996.4 1134.1 L999.0 1135.7 L1001.6 1137.3 L1004.2 1138.9 L1006.8 1140.4 L1009.3 1142.0 L1011.9 1143.5 L1014.5 1145.1 L1017.1 1146.6 L1019.7 1148.0 L1022.4 1149.5 L1025.0 1150.9 L1027.6 1152.3 L1030.3 1153.7 L1032.9 1155.1 L1035.6 1156.4 L1038.3 1157.7 L1040.9 1159.0 L1043.6 1160.2 L1046.3 1161.4 L1049.1 1162.6 L1051.8 1163.7 L1054.5 1164.8 L1057.3 1165.9 L1060.1 1166.9 L1062.9 1167.9 L1065.7 1168.8 L1068.5 1169.7 L1071.3 1170.5 L1074.2 1171.3 L1077.0 1172.1 L1079.9 1172.8 L1082.8 1173.5 L1085.8 1174.1 L1088.7 1174.7 L1091.6 1175.3 L1094.6 1175.8 L1097.6 1176.3 L1100.5 1176.7 L1103.5 1177.2 L1106.5 1177.6 L1109.5 1177.9 L1112.5 1178.3 L1115.6 1178.6 L1118.6 1178.9 L1121.6 1179.2 L1124.7 1179.5 L1127.7 1179.8 L1130.7 1180.0 L1133.8 1180.2 L1136.8 1180.5 L1139.9 1180.7 L1142.9 1180.9 L1146.0 1181.1 L1149.0 1181.3 L1152.0 1181.5 L1155.1 1181.7 L1158.1 1181.9 L1161.1 1182.1 L1164.1 1182.3 L1167.2 1182.5 L1170.2 1182.7 L1173.2 1182.9 L1176.2 1183.1 L1179.2 1183.3 L1182.2 1183.5 L1185.2 1183.7 L1188.2 1183.9 L1191.2 1184.1 L1194.2 1184.4 L1197.2 1184.6 L1200.2 1184.8 L1203.2 1185.0 L1206.2 1185.2 L1209.2 1185.5 L1212.2 1185.7 L1215.2 1185.9 L1218.2 1186.2 L1221.1 1186.4 L1224.1 1186.7 L1227.1 1186.9 L1230.1 1187.2 L1233.1 1187.4 L1236.0 1187.7 L1239.0 1188.0 L1242.0 1188.3 L1245.0 1188.6 L1247.9 1188.9 L1250.9 1189.2 L1253.9 1189.5 L1256.8 1189.8 L1259.8 1190.1 L1262.8 1190.4 L1265.8 1190.8 L1268.7 1191.1 L1271.7 1191.5 L1274.7 1191.8 L1277.6 1192.2 L1280.6 1192.6 L1283.6 1193.0 L1286.5 1193.3 L1289.5 1193.7 L1292.5 1194.1 L1295.4 1194.5 L1298.4 1195.0 L1301.4 1195.4 L1304.3 1195.8 L1307.3 1196.2 L1310.3 1196.7 L1313.2 1197.1 L1316.2 1197.5 L1319.2 1198.0 L1322.1 1198.4 L1325.1 1198.9 L1328.1 1199.4 L1331.0 1199.8 L1334.0 1200.3 L1337.0 1200.8 L1339.9 1201.2 L1342.9 1201.7 L1345.9 1202.2 L1348.8 1202.7 L1351.8 1203.2 L1354.8 1203.7 L1357.7 1204.2 L1360.7 1204.7 L1363.7 1205.2 L1366.6 1205.7 L1369.6 1206.2 L1372.5 1206.7 L1375.5 1207.2 L1378.5 1207.7 L1381.4 1208.2 L1384.4 1208.7 L1387.4 1209.2 L1390.3 1209.7 L1393.3 1210.3 L1396.3 1210.8 L1399.2 1211.3 L1402.2 1211.8 L1405.2 1212.3 L1408.1 1212.8 L1411.1 1213.3 L1414.1 1213.9 L1417.0 1214.4 L1420.0 1214.9 L1423.0 1215.4 L1425.9 1215.9 L1428.9 1216.4 L1431.9 1216.9 L1434.9 1217.4 L1437.8 1217.9 L1440.8 1218.4 L1443.8 1218.9 L1446.7 1219.4 L1449.7 1219.9 L1452.7 1220.4 L1455.6 1220.9 L1458.6 1221.3 L1461.6 1221.8 L1464.6 1222.3 L1467.5 1222.8 L1470.5 1223.2 L1473.5 1223.7 L1476.5 1224.2 L1479.4 1224.6 L1482.4 1225.1 L1485.4 1225.5 L1488.4 1226.0 L1491.3 1226.4 L1494.3 1226.8 L1497.3 1227.3 L1500.3 1227.7 L1503.2 1228.1 L1506.2 1228.5 L1509.2 1228.9 L1512.2 1229.3 L1515.2 1229.7 L1518.1 1230.1 L1521.1 1230.5 L1524.1 1230.8 L1527.1 1231.2 L1530.1 1231.5 L1533.0 1231.9 L1536.0 1232.2 L1539.0 1232.6 L1542.0 1232.9 L1545.0 1233.2 L1548.0 1233.5 L1551.0 1233.8 L1554.0 1234.1 L1556.9 1234.4 L1559.9 1234.7 L1562.9 1234.9 L1565.9 1235.2 L1568.9 1235.4 L1571.9 1235.7 L1574.9 1235.9 L1577.9 1236.1 L1580.9 1236.3 L1583.9 1236.5 L1586.9 1236.7 L1589.9 1236.9 L1592.9 1237.1 L1595.9 1237.2 L1598.9 1237.4 L1601.9 1237.5 L1604.9 1237.6 L1607.9 1237.7 L1610.9 1237.8 L1613.9 1237.9 L1616.9 1238.0 L1619.9 1238.1 L1622.9 1238.1 L1625.9 1238.2 L1628.9 1238.2 L1631.9 1238.2 L1634.9 1238.2 L1637.9 1238.2 L1641.0 1238.1 L1644.0 1238.1 L1647.0 1238.1 L1650.0 1238.0" stroke="#008000"/><path d="M279.0 250.0 L279.0 30.0 L285.0 30.0 L285.0 33.0 L285.1 36.0 L285.1 39.0 L285.1 42.0 L285.2 45.0 L285.2 48.0 L285.2 51.0 L285.3 54.0 L285.3 57.0 L285.3 60.0 L285.3 63.0 L285.4 66.0 L285.4 69.0 L285.4 72.0 L285.4 75.0 L285.5 78.0 L285.5 81.0 L285.5 84.1 L285.6 87.1 L285.6 90.1 L285.6 93.1 L285.7 96.1 L285.7 99.1 L285.7 102.1 L285.8 105.1 L285.8 108.1 L285.9 111.1 L285.9 114.1 L285.9 117.1 L286.0 120.1 L286.1 123.1 L286.1 126.1 L286.2 129.1 L286.2 132.2 L286.3 135.2 L286.4 138.2 L286.5 141.2 L286.6 144.2 L286.6 147.2 L286.7 150.2 L286.8 153.2 L286.9 156.2 L287.1 159.2 L287.2 162.2 L287.3 165.2 L287.4 168.2 L287.6 171.2 L287.7 174.2 L287.8 177.2 L288.0 180.2 L288.1 183.2 L288.2 186.2 L288.3 189.2 L288.4 192.2 L288.5 195.2 L288.5 198.2 L288.5 201.2 L288.5 204.2 L288.5 207.2 L288.5 210.3 L288.5 213.3 L288.5 216.3 L288.6 219.3 L288.7 222.3 L289.0 225.3 L289.3 228.2 L289.7 231.2 L290.2 234.2 L290.7 237.1 L291.2 240.1 L291.8 243.0 L292.3 246.0 L292.9 249.0 L293.4 251.9 L293.8 254.9 L294.2 257.9 L294.5 260.9 L294.8 263.9 L295.0 266.9 L295.4 269.9 L295.8 272.8 L296.2 275.8 L296.8 278.7 L297.5 281.7 L298.2 284.6 L299.0 287.5 L299.8 290.4 L300.6 293.3 L301.3 296.2 L302.1 299.1 L302.8 302.0 L303.5 305.0 L304.1 307.9 L304.7 310.9 L305.3 313.8 L305.9 316.8 L306.5 319.7 L307.0 322.7 L307.6 325.6 L308.2 328.6 L308.8 331.5 L309.4 334.4 L310.1 337.4 L310.7 340.3 L311.4 343.2 L312.2 346.1 L313.0 349.0 L313.8 351.9 L314.7 354.8 L315.6 357.6 L316.6 360.5 L317.5 363.3 L318.5 366.2 L319.5 369.0 L320.5 371.8 L321.4 374.7 L322.4 377.5 L323.4 380.4 L324.4 383.2 L325.4 386.0 L326.4 388.9 L327.4 391.7 L328.4 394.5 L329.5 397.3 L330.6 400.2 L331.6 403.0 L332.8 405.8 L333.9 408.6 L335.2 411.3 L336.7 413.9 L338.3 416.3 L340.2 418.6 L342.2 420.7 L344.2 423.0 L346.1 425.6 L348.0 428.1 L350.0 430.4 L352.4 432.1 L354.9 432.9 L357.5 432.6 L360.1 431.3 L362.6 429.4 L364.8 427.1 L366.7 424.7 L368.4 422.1 L370.1 419.5 L371.7 416.9 L373.4 414.5 L375.2 412.3 L377.3 410.3 L379.8 408.8 L382.7 407.6 L385.8 406.9 L389.0 406.7 L392.2 407.0 L395.0 407.8 L397.6 409.2 L399.7 411.1 L401.4 413.5 L402.8 416.2 L404.2 419.0 L405.5 421.7 L406.8 424.5 L408.1 427.2 L409.3 430.0 L410.4 432.7 L411.4 435.6 L412.3 438.4 L413.1 441.3 L413.9 444.2 L414.6 447.1 L415.3 450.0 L416.0 452.9 L416.7 455.9 L417.4 458.8 L418.1 461.7 L418.7 464.7 L419.4 467.6 L420.1 470.5 L420.8 473.4 L421.5 476.4 L422.2 479.3 L422.8 482.2 L423.5 485.1 L424.2 488.1 L424.8 491.0 L425.5 493.9 L426.1 496.9 L426.8 499.8 L427.4 502.8 L428.0 505.7 L428.6 508.6 L429.2 511.6 L429.7 514.5 L430.3 517.5 L430.8 520.4 L431.3 523.4 L431.8 526.4 L432.3 529.3 L432.8 532.3 L433.2 535.3 L433.6 538.2 L434.1 541.2 L434.5 544.2 L434.9 547.2 L435.3 550.2 L435.7 553.1 L436.1 556.1 L436.5 559.1 L436.9 562.1 L437.3 565.0 L437.8 568.0 L438.2 571.0 L438.7 574.0 L439.1 576.9 L439.6 579.9 L440.1 582.9 L440.6 585.8 L441.1 588.8 L441.6 591.7 L442.1 594.7 L442.6 597.7 L443.1 600.6 L443.7 603.6 L444.2 606.5 L444.7 609.5 L445.2 612.4 L445.7 615.4 L446.2 618.4 L446.7 621.3 L447.2 624.3 L447.7 627.3 L448.2 630.2 L448.6 633.2 L449.1 636.2 L449.6 639.1 L450.0 642.1 L450.4 645.1 L450.9 648.0 L451.3 651.0 L451.7 654.0 L452.2 657.0 L452.6 659.9 L453.0 662.9 L453.4 665.9 L453.8 668.9 L454.2 671.8 L454.6 674.8 L455.0 677.8 L455.4 680.8 L455.8 683.8 L456.2 686.7 L456.6 689.7 L457.0 692.7 L457.4 695.7 L457.8 698.7 L458.2 701.6 L458.7 704.6 L459.1 707.6 L459.5 710.6 L459.9 713.5 L460.3 716.5 L460.7 719.5 L461.1 722.5 L461.5 725.4 L462.0 728.4 L462.4 731.4 L462.8 734.4 L463.3 737.3 L463.7 740.3 L464.1 743.3 L464.6 746.2 L465.0 749.2 L465.5 752.2 L465.9 755.1 L466.4 758.1 L466.8 761.1 L467.3 764.0 L467.8 767.0 L468.2 770.0 L468.7 772.9 L469.2 775.9 L469.6 778.8 L470.1 781.8 L470.6 784.8 L471.1 787.7 L471.6 790.7 L472.1 793.7 L472.5 796.6 L473.0 799.6 L473.5 802.5 L474.0 805.5 L474.5 808.5 L475.0 811.4 L475.5 814.4 L476.1 817.3 L476.6 820.3 L477.1 823.3 L477.6 826.2 L478.1 829.2 L478.6 832.1 L479.2 835.1 L479.7 838.1 L480.2 841.0 L480.7 844.0 L481.3 846.9 L481.8 849.9 L482.4 852.9 L482.9 855.8 L483.4 858.8 L484.0 861.7 L484.5 864.7 L485.1 867.7 L485.6 870.6 L486.2 873.6 L486.8 876.5 L487.3 879.5 L487.9 882.5 L488.4 885.4 L489.0 888.4 L489.6 891.4 L490.1 894.3 L490.7 897.3 L491.3 900.2 L491.9 903.2 L492.5 906.2 L493.0 909.1 L493.6 912.1 L494.2 915.1 L494.8 918.0 L495.4 921.0 L496.0 923.9 L496.7 926.9 L497.3 929.8 L497.9 932.8 L498.6 935.7 L499.2 938.6 L499.9 941.5 L500.6 944.5 L501.3 947.4 L502.0 950.3 L502.7 953.2 L503.4 956.1 L504.2 958.9 L504.9 961.8 L505.7 964.7 L506.5 967.5 L507.3 970.4 L508.1 973.2 L509.0 976.0 L509.9 978.8 L510.7 981.6 L511.6 984.4 L512.6 987.2 L513.5 990.0 L514.5 992.8 L515.5 995.6 L516.6 998.4 L517.7 1001.3 L518.8 1004.2 L520.0 1007.2 L521.2 1010.1 L522.5 1013.2 L523.8 1016.2 L525.3 1019.1 L526.9 1021.8 L528.6 1024.3 L530.6 1026.3 L532.8 1027.8 L535.2 1028.8 L537.9 1029.2 L540.6 1029.1 L543.4 1028.5 L546.0 1027.5 L548.4 1026.1 L550.6 1024.3 L552.6 1022.2 L554.3 1019.9 L555.9 1017.3 L557.4 1014.6 L558.7 1011.7 L560.0 1008.8 L561.2 1005.9 L562.5 1002.9 L563.7 1000.0 L564.9 997.2 L566.2 994.3 L567.4 991.5 L568.7 988.8 L569.9 986.0 L571.2 983.3 L572.5 980.6 L573.7 977.9 L574.9 975.3 L576.2 972.6 L577.4 970.0 L578.7 967.3 L579.9 964.7 L581.1 962.0 L582.3 959.4 L583.5 956.7 L584.7 954.0 L585.9 951.3 L587.0 948.6 L588.2 945.9 L589.3 943.1 L590.4 940.4 L591.5 937.6 L592.6 934.8 L593.7 932.0 L594.8 929.1 L595.8 926.3 L596.8 923.4 L597.8 920.5 L598.8 917.6 L599.8 914.7 L600.7 911.8 L601.7 908.9 L602.6 906.0 L603.5 903.1 L604.4 900.2 L605.3 897.2 L606.1 894.3 L607.0 891.4 L607.9 888.6 L608.9 885.7 L610.0 882.9 L611.2 880.2 L612.6 877.6 L614.1 875.1 L615.9 872.7 L617.9 870.3 L620.1 868.2 L622.7 866.2 L625.4 864.4 L628.2 863.1 L631.0 862.3 L633.7 862.2 L636.2 862.9 L638.5 864.1 L640.8 865.8 L642.8 868.0 L644.8 870.3 L646.7 872.8 L648.5 875.3 L650.3 877.9 L652.0 880.5 L653.6 883.1 L655.1 885.7 L656.6 888.4 L658.1 891.0 L659.5 893.7 L660.8 896.4 L662.1 899.2 L663.3 901.9 L664.5 904.7 L665.7 907.5 L666.8 910.3 L667.9 913.1 L668.9 915.9 L670.0 918.7 L670.9 921.6 L671.9 924.4 L672.9 927.3 L673.8 930.1 L674.7 933.0 L675.6 935.9 L676.4 938.7 L677.3 941.6 L678.2 944.5 L679.0 947.4 L679.8 950.3 L680.7 953.1 L681.5 956.0 L682.4 958.9 L683.2 961.7 L684.1 964.6 L685.0 967.5 L685.8 970.3 L686.7 973.2 L687.6 976.0 L688.5 978.9 L689.4 981.7 L690.3 984.5 L691.2 987.4 L692.1 990.2 L693.0 993.0 L693.9 995.9 L694.8 998.7 L695.8 1001.5 L696.7 1004.4 L697.6 1007.2 L698.6 1010.0 L699.5 1012.9 L700.5 1015.7 L701.4 1018.5 L702.4 1021.4 L703.4 1024.2 L704.4 1027.0 L705.3 1029.9 L706.3 1032.7 L707.3 1035.6 L708.3 1038.4 L709.3 1041.3 L710.3 1044.1 L711.3 1047.0 L712.4 1049.9 L713.4 1052.7 L714.5 1055.6 L715.5 1058.4 L716.6 1061.3 L717.7 1064.1 L718.9 1066.9 L720.0 1069.7 L721.2 1072.5 L722.4 1075.3 L723.7 1078.0 L725.0 1080.8 L726.3 1083.5 L727.7 1086.2 L729.1 1088.8 L730.6 1091.4 L732.1 1094.0 L733.6 1096.6 L735.2 1099.1 L736.9 1101.6 L738.6 1104.0 L740.4 1106.4 L742.3 1108.7 L744.2 1111.1 L746.2 1113.3 L748.2 1115.5 L750.4 1117.7 L752.6 1119.7 L754.8 1121.7 L757.2 1123.6 L759.6 1125.2 L762.0 1126.7 L764.5 1127.9 L767.1 1128.9 L769.8 1129.5 L772.4 1129.8 L775.2 1129.7 L778.0 1129.3 L780.8 1128.6 L783.6 1127.5 L786.4 1126.3 L789.2 1124.8 L791.9 1123.1 L794.7 1121.3 L797.4 1119.4 L800.0 1117.4 L802.5 1115.4 L804.9 1113.3 L807.3 1111.2 L809.6 1109.1 L811.9 1107.0 L814.1 1104.8 L816.2 1102.7 L818.3 1100.5 L820.4 1098.3 L822.4 1096.1 L824.4 1093.8 L826.4 1091.6 L828.4 1089.4 L830.3 1087.2 L832.2 1085.0 L834.2 1082.8 L836.1 1080.6 L838.0 1078.4 L840.0 1076.2 L841.9 1074.1 L843.9 1072.0 L845.9 1069.9 L848.0 1067.8 L850.1 1065.8 L852.2 1063.8 L854.4 1061.8 L856.6 1059.9 L858.9 1058.1 L861.2 1056.2 L863.6 1054.4 L866.1 1052.7 L868.7 1051.0 L871.3 1049.4 L874.0 1047.9 L876.8 1046.4 L879.6 1045.1 L882.5 1043.8 L885.4 1042.7 L888.3 1041.6 L891.3 1040.7 L894.2 1040.0 L897.2 1039.3 L900.2 1038.9 L903.1 1038.6 L906.1 1038.5 L909.0 1038.6 L911.9 1038.9 L914.8 1039.4 L917.6 1040.0 L920.4 1040.9 L923.1 1041.9 L925.9 1043.0 L928.6 1044.3 L931.2 1045.6 L933.9 1047.1 L936.5 1048.6 L939.1 1050.2 L941.6 1051.8 L944.1 1053.5 L946.6 1055.2 L949.1 1056.9 L951.6 1058.6 L954.0 1060.4 L956.4 1062.1 L958.8 1063.9 L961.2 1065.7 L963.6 1067.5 L965.9 1069.4 L968.2 1071.2 L970.5 1073.1 L972.8 1075.0 L975.1 1077.0 L977.4 1078.9 L979.6 1080.9 L981.9 1082.9 L984.1 1084.9 L986.3 1086.9 L988.6 1088.9 L990.8 1091.0 L993.0 1093.0 L995.2 1095.1 L997.4 1097.1 L999.6 1099.2 L1001.9 1101.2 L1004.1 1103.3 L1006.3 1105.3 L1008.5 1107.4 L1010.8 1109.4 L1013.0 1111.4 L1015.3 1113.4 L1017.6 1115.4 L1019.9 1117.4 L1022.2 1119.3 L1024.5 1121.2 L1026.8 1123.1 L1029.2 1125.0 L1031.6 1126.8 L1034.0 1128.7 L1036.4 1130.4 L1038.8 1132.2 L1041.3 1133.9 L1043.8 1135.5 L1046.3 1137.1 L1048.9 1138.7 L1051.5 1140.3 L1054.1 1141.8 L1056.7 1143.2 L1059.3 1144.6 L1062.0 1146.0 L1064.7 1147.3 L1067.4 1148.6 L1070.1 1149.8 L1072.9 1151.0 L1075.7 1152.2 L1078.4 1153.3 L1081.2 1154.4 L1084.1 1155.4 L1086.9 1156.4 L1089.7 1157.3 L1092.6 1158.2 L1095.5 1159.1 L1098.3 1159.9 L1101.2 1160.6 L1104.1 1161.4 L1107.0 1162.0 L1110.0 1162.7 L1112.9 1163.3 L1115.8 1163.8 L1118.8 1164.3 L1121.7 1164.8 L1124.7 1165.2 L1127.6 1165.6 L1130.6 1165.9 L1133.5 1166.3 L1136.5 1166.5 L1139.5 1166.8 L1142.5 1167.0 L1145.5 1167.2 L1148.5 1167.4 L1151.4 1167.6 L1154.4 1167.7 L1157.4 1167.8 L1160.4 1167.9 L1163.5 1168.0 L1166.5 1168.0 L1169.5 1168.1 L1172.5 1168.1 L1175.5 1168.1 L1178.5 1168.2 L1181.5 1168.2 L1184.6 1168.2 L1187.6 1168.2 L1190.6 1168.2 L1193.6 1168.1 L1196.7 1168.1 L1199.7 1168.1 L1202.7 1168.1 L1205.7 1168.1 L1208.7 1168.2 L1211.8 1168.2 L1214.8 1168.2 L1217.8 1168.3 L1220.8 1168.3 L1223.8 1168.4 L1226.8 1168.5 L1229.8 1168.6 L1232.8 1168.7 L1235.8 1168.9 L1238.8 1169.1 L1241.8 1169.3 L1244.8 1169.5 L1247.8 1169.7 L1250.8 1170.0 L1253.8 1170.3 L1256.7 1170.7 L1259.7 1171.0 L1262.7 1171.4 L1265.6 1171.8 L1268.6 1172.2 L1271.6 1172.7 L1274.5 1173.2 L1277.5 1173.7 L1280.4 1174.2 L1283.4 1174.7 L1286.3 1175.2 L1289.2 1175.8 L1292.2 1176.4 L1295.1 1177.0 L1298.1 1177.6 L1301.0 1178.2 L1303.9 1178.9 L1306.8 1179.5 L1309.8 1180.2 L1312.7 1180.9 L1315.6 1181.5 L1318.5 1182.2 L1321.5 1182.9 L1324.4 1183.7 L1327.3 1184.4 L1330.2 1185.1 L1333.1 1185.8 L1336.1 1186.6 L1339.0 1187.3 L1341.9 1188.1 L1344.8 1188.8 L1347.7 1189.6 L1350.6 1190.3 L1353.6 1191.1 L1356.5 1191.8 L1359.4 1192.6 L1362.3 1193.3 L1365.2 1194.1 L1368.1 1194.8 L1371.1 1195.6 L1374.0 1196.3 L1376.9 1197.1 L1379.8 1197.8 L1382.7 1198.5 L1385.7 1199.2 L1388.6 1199.9 L1391.5 1200.6 L1394.4 1201.3 L1397.4 1202.0 L1400.3 1202.7 L1403.2 1203.3 L1406.2 1204.0 L1409.1 1204.7 L1412.0 1205.3 L1415.0 1205.9 L1417.9 1206.6 L1420.8 1207.2 L1423.8 1207.8 L1426.7 1208.4 L1429.7 1209.0 L1432.6 1209.6 L1435.6 1210.2 L1438.5 1210.8 L1441.5 1211.4 L1444.4 1211.9 L1447.4 1212.5 L1450.3 1213.0 L1453.3 1213.6 L1456.2 1214.1 L1459.2 1214.7 L1462.1 1215.2 L1465.1 1215.7 L1468.0 1216.2 L1471.0 1216.7 L1473.9 1217.2 L1476.9 1217.7 L1479.9 1218.2 L1482.8 1218.7 L1485.8 1219.2 L1488.8 1219.6 L1491.7 1220.1 L1494.7 1220.5 L1497.7 1221.0 L1500.6 1221.4 L1503.6 1221.9 L1506.6 1222.3 L1509.5 1222.7 L1512.5 1223.2 L1515.5 1223.6 L1518.4 1224.0 L1521.4 1224.4 L1524.4 1224.8 L1527.4 1225.2 L1530.4 1225.5 L1533.3 1225.9 L1536.3 1226.3 L1539.3 1226.7 L1542.3 1227.0 L1545.2 1227.4 L1548.2 1227.7 L1551.2 1228.1 L1554.2 1228.4 L1557.2 1228.8 L1560.2 1229.1 L1563.1 1229.4 L1566.1 1229.7 L1569.1 1230.1 L1572.1 1230.4 L1575.1 1230.7 L1578.1 1231.0 L1581.1 1231.3 L1584.1 1231.6 L1587.1 1231.8 L1590.0 1232.1 L1593.0 1232.4 L1596.0 1232.7 L1599.0 1232.9 L1602.0 1233.2 L1605.0 1233.5 L1608.0 1233.7 L1611.0 1234.0 L1614.0 1234.2 L1617.0 1234.4 L1620.0 1234.7 L1623.0 1234.9 L1626.0 1235.1 L1629.0 1235.4 L1632.0 1235.6 L1635.0 1235.8 L1638.0 1236.0 L1641.0 1236.2 L1644.0 1236.4 L1647.0 1236.6 L1650.0 1236.8 L1653.0 1237.0" stroke="#000080"/><path d="M302.4 30.0 L302.2 33.0 L302.1 36.0 L302.2 39.0 L302.3 42.0 L302.6 45.0 L302.9 48.0 L303.3 51.0 L303.8 53.9 L304.3 56.9 L304.8 59.9 L305.4 62.8 L306.0 65.8 L306.6 68.7 L307.2 71.7 L307.7 74.7 L308.2 77.6 L308.7 80.6 L309.2 83.6 L309.7 86.5 L310.2 89.5 L310.7 92.4 L311.2 95.4 L311.7 98.4 L312.3 101.3 L312.8 104.3 L313.4 107.2 L314.1 110.2 L314.7 113.1 L315.4 116.1 L316.1 119.0 L316.8 121.9 L317.6 124.8 L318.3 127.7 L319.1 130.6 L319.9 133.5 L320.8 136.4 L321.6 139.3 L322.4 142.1 L323.3 145.0 L324.1 147.9 L324.9 150.8 L325.6 153.7 L326.4 156.6 L327.1 159.5 L327.8 162.4 L328.5 165.4 L329.3 168.3 L330.0 171.2 L330.8 174.1 L331.6 177.0 L332.4 179.9 L333.4 182.8 L334.3 185.6 L335.4 188.4 L336.5 191.2 L337.7 193.9 L339.0 196.6 L340.4 199.2 L341.9 201.8 L343.5 204.3 L345.1 206.9 L346.8 209.5 L348.5 212.2 L350.1 214.9 L351.8 217.8 L353.4 220.2 L355.3 221.3 L357.4 220.5 L359.6 218.5 L361.6 216.1 L363.5 213.6 L365.2 211.0 L366.8 208.4 L368.4 205.7 L369.9 203.1 L371.4 200.5 L372.9 198.0 L374.5 195.5 L376.1 193.1 L377.8 190.6 L379.7 188.2 L381.7 185.8 L383.8 183.4 L386.3 181.5 L389.0 180.5 L391.9 180.3 L394.8 181.1 L397.5 182.6 L399.6 184.6 L401.2 187.1 L402.4 189.8 L403.4 192.8 L404.4 195.7 L405.4 198.6 L406.4 201.5 L407.5 204.3 L408.5 207.2 L409.5 210.0 L410.5 212.9 L411.4 215.7 L412.3 218.5 L413.1 221.4 L413.9 224.3 L414.7 227.2 L415.3 230.1 L416.0 233.0 L416.6 236.0 L417.1 238.9 L417.7 241.9 L418.2 244.8 L418.6 247.8 L419.1 250.8 L419.5 253.8 L420.0 256.8 L420.4 259.7 L420.8 262.7 L421.2 265.7 L421.6 268.7 L422.0 271.7 L422.4 274.7 L422.9 277.7 L423.3 280.6 L423.8 283.6 L424.3 286.6 L424.8 289.5 L425.3 292.5 L425.8 295.4 L426.4 298.4 L426.9 301.3 L427.5 304.3 L428.0 307.2 L428.5 310.2 L428.9 313.1 L429.4 316.1 L429.9 319.1 L430.3 322.0 L430.7 325.0 L431.1 328.0 L431.5 331.0 L431.9 334.0 L432.3 337.0 L432.7 340.0 L433.0 342.9 L433.4 345.9 L433.7 348.9 L434.1 351.9 L434.4 354.9 L434.8 357.9 L435.1 360.9 L435.4 363.9 L435.8 366.8 L436.1 369.8 L436.5 372.8 L436.8 375.8 L437.2 378.8 L437.5 381.8 L437.9 384.8 L438.2 387.7 L438.6 390.7 L438.9 393.7 L439.3 396.7 L439.7 399.7 L440.1 402.7 L440.4 405.6 L440.8 408.6 L441.2 411.6 L441.6 414.6 L442.0 417.6 L442.3 420.5 L442.7 423.5 L443.1 426.5 L443.5 429.5 L443.9 432.5 L444.3 435.4 L444.7 438.4 L445.1 441.4 L445.4 444.4 L445.8 447.4 L446.2 450.3 L446.6 453.3 L447.0 456.3 L447.4 459.3 L447.8 462.3 L448.1 465.3 L448.5 468.2 L448.9 471.2 L449.3 474.2 L449.6 477.2 L450.0 480.2 L450.4 483.1 L450.8 486.1 L451.1 489.1 L451.5 492.1 L451.8 495.1 L452.2 498.1 L452.6 501.1 L452.9 504.0 L453.3 507.0 L453.6 510.0 L454.0 513.0 L454.3 516.0 L454.6 519.0 L455.0 522.0 L455.3 524.9 L455.7 527.9 L456.0 530.9 L456.3 533.9 L456.7 536.9 L457.0 539.9 L457.4 542.9 L457.7 545.9 L458.0 548.9 L458.3 551.8 L458.7 554.8 L459.0 557.8 L459.3 560.8 L459.7 563.8 L460.0 566.8 L460.3 569.8 L460.7 572.8 L461.0 575.8 L461.3 578.8 L461.6 581.7 L462.0 584.7 L462.3 587.7 L462.6 590.7 L462.9 593.7 L463.3 596.7 L463.6 599.7 L463.9 602.7 L464.2 605.7 L464.6 608.6 L464.9 611.6 L465.2 614.6 L465.6 617.6 L465.9 620.6 L466.2 623.6 L466.6 626.6 L466.9 629.6 L467.2 632.6 L467.6 635.5 L467.9 638.5 L468.2 641.5 L468.6 644.5 L468.9 647.5 L469.3 650.5 L469.6 653.5 L470.0 656.4 L470.3 659.4 L470.6 662.4 L471.0 665.4 L471.4 668.4 L471.7 671.4 L472.1 674.4 L472.4 677.3 L472.8 680.3 L473.1 683.3 L473.5 686.3 L473.9 689.3 L474.2 692.2 L474.6 695.2 L475.0 698.2 L475.4 701.2 L475.7 704.2 L476.1 707.1 L476.5 710.1 L476.9 713.1 L477.3 716.1 L477.7 719.1 L478.1 722.0 L478.5 725.0 L478.9 728.0 L479.3 731.0 L479.7 733.9 L480.1 736.9 L480.5 739.9 L480.9 742.9 L481.4 745.8 L481.8 748.8 L482.2 751.8 L482.6 754.8 L483.1 757.7 L483.5 760.7 L483.9 763.7 L484.4 766.7 L484.8 769.6 L485.3 772.6 L485.7 775.6 L486.2 778.5 L486.6 781.5 L487.1 784.5 L487.5 787.5 L488.0 790.4 L488.5 793.4 L489.0 796.4 L489.4 799.3 L489.9 802.3 L490.4 805.3 L490.9 808.2 L491.4 811.2 L491.9 814.2 L492.4 817.1 L492.9 820.1 L493.4 823.1 L493.9 826.0 L494.4 829.0 L494.9 832.0 L495.5 835.0 L496.0 837.9 L496.5 840.9 L497.0 843.9 L497.6 846.8 L498.1 849.8 L498.7 852.8 L499.2 855.7 L499.8 858.7 L500.3 861.7 L500.9 864.6 L501.5 867.6 L502.0 870.5 L502.6 873.5 L503.2 876.5 L503.8 879.4 L504.4 882.4 L505.0 885.4 L505.6 888.3 L506.2 891.3 L506.9 894.2 L507.5 897.2 L508.2 900.1 L508.9 903.0 L509.7 905.9 L510.5 908.8 L511.3 911.7 L512.1 914.6 L512.9 917.4 L513.9 920.3 L514.8 923.1 L515.8 925.9 L516.8 928.7 L517.9 931.5 L519.0 934.2 L520.2 937.0 L521.4 939.7 L522.7 942.4 L524.0 945.0 L525.4 947.7 L526.9 950.3 L528.4 952.8 L530.0 955.4 L531.6 957.9 L533.4 960.4 L535.2 962.5 L537.3 964.0 L539.8 964.5 L542.5 963.9 L545.4 962.4 L548.1 960.2 L550.6 957.9 L552.7 955.3 L554.5 952.7 L556.1 949.9 L557.5 947.2 L558.9 944.4 L560.2 941.7 L561.5 938.9 L562.7 936.2 L563.9 933.4 L565.1 930.7 L566.1 927.9 L567.2 925.2 L568.2 922.4 L569.1 919.6 L570.0 916.8 L570.8 913.9 L571.7 911.1 L572.4 908.2 L573.2 905.3 L573.9 902.4 L574.5 899.5 L575.2 896.5 L575.9 893.6 L576.5 890.7 L577.2 887.7 L577.8 884.8 L578.5 881.8 L579.1 878.9 L579.8 875.9 L580.5 873.0 L581.2 870.0 L581.9 867.1 L582.7 864.2 L583.4 861.2 L584.2 858.3 L585.0 855.4 L585.7 852.5 L586.5 849.5 L587.3 846.6 L588.0 843.7 L588.8 840.8 L589.5 837.9 L590.2 835.0 L590.9 832.1 L591.6 829.2 L592.3 826.3 L593.0 823.4 L593.7 820.5 L594.3 817.6 L595.0 814.7 L595.6 811.8 L596.3 808.9 L597.0 806.0 L597.7 803.1 L598.3 800.2 L599.0 797.3 L599.7 794.4 L600.4 791.5 L601.2 788.6 L601.9 785.7 L602.7 782.8 L603.5 779.9 L604.3 777.0 L605.1 774.1 L606.0 771.2 L606.9 768.3 L607.8 765.4 L608.8 762.5 L609.8 759.6 L610.8 756.6 L611.9 753.7 L613.0 750.8 L614.1 747.9 L615.3 744.9 L616.6 742.0 L617.9 739.2 L619.4 736.5 L621.0 734.1 L622.7 731.9 L624.7 730.1 L627.0 728.7 L629.5 727.7 L632.3 727.3 L635.3 727.5 L638.4 728.3 L641.4 729.6 L643.8 731.4 L645.7 733.7 L647.2 736.2 L648.5 739.1 L649.5 742.1 L650.4 745.2 L651.3 748.2 L652.2 751.2 L653.2 754.1 L654.2 756.9 L655.3 759.8 L656.3 762.6 L657.3 765.4 L658.3 768.2 L659.3 771.0 L660.3 773.8 L661.2 776.7 L662.2 779.5 L663.1 782.3 L664.0 785.2 L664.8 788.0 L665.7 790.9 L666.6 793.8 L667.4 796.7 L668.2 799.5 L669.0 802.4 L669.8 805.3 L670.6 808.2 L671.3 811.1 L672.1 814.0 L672.8 816.9 L673.5 819.9 L674.2 822.8 L675.0 825.7 L675.7 828.6 L676.4 831.5 L677.0 834.5 L677.7 837.4 L678.4 840.3 L679.1 843.3 L679.7 846.2 L680.4 849.2 L681.1 852.1 L681.7 855.0 L682.4 858.0 L683.1 860.9 L683.7 863.8 L684.4 866.8 L685.0 869.7 L685.7 872.7 L686.4 875.6 L687.0 878.5 L687.7 881.5 L688.3 884.4 L689.0 887.3 L689.7 890.3 L690.4 893.2 L691.0 896.1 L691.7 899.1 L692.4 902.0 L693.1 904.9 L693.8 907.8 L694.4 910.8 L695.1 913.7 L695.8 916.6 L696.5 919.5 L697.2 922.4 L698.0 925.4 L698.7 928.3 L699.4 931.2 L700.1 934.1 L700.9 937.0 L701.6 939.9 L702.4 942.8 L703.1 945.7 L703.9 948.6 L704.6 951.5 L705.4 954.4 L706.2 957.3 L707.0 960.2 L707.8 963.1 L708.6 966.0 L709.4 968.9 L710.2 971.8 L711.1 974.7 L711.9 977.5 L712.8 980.4 L713.6 983.3 L714.5 986.2 L715.4 989.0 L716.3 991.9 L717.2 994.8 L718.1 997.6 L719.0 1000.5 L720.0 1003.4 L720.9 1006.2 L721.9 1009.1 L722.9 1011.9 L723.8 1014.7 L724.8 1017.6 L725.9 1020.4 L726.9 1023.3 L727.9 1026.1 L729.0 1028.9 L730.0 1031.7 L731.1 1034.5 L732.2 1037.4 L733.3 1040.2 L734.4 1043.0 L735.6 1045.8 L736.8 1048.6 L738.0 1051.3 L739.2 1054.1 L740.5 1056.8 L741.9 1059.5 L743.3 1062.1 L744.8 1064.7 L746.4 1067.2 L748.1 1069.6 L749.9 1072.0 L751.8 1074.3 L753.8 1076.5 L755.9 1078.7 L758.2 1080.7 L760.7 1082.6 L763.2 1084.4 L765.9 1086.0 L768.7 1087.3 L771.5 1088.3 L774.4 1088.8 L777.3 1088.9 L780.2 1088.5 L783.0 1087.7 L785.8 1086.6 L788.5 1085.2 L791.1 1083.6 L793.7 1081.8 L796.1 1079.9 L798.4 1077.9 L800.7 1075.8 L802.8 1073.6 L804.9 1071.3 L806.9 1069.0 L808.8 1066.6 L810.6 1064.1 L812.4 1061.6 L814.1 1059.1 L815.8 1056.6 L817.4 1054.1 L819.0 1051.6 L820.6 1049.2 L822.1 1046.7 L823.6 1044.3 L825.1 1041.8 L826.6 1039.4 L828.1 1036.9 L829.5 1034.4 L831.0 1031.9 L832.5 1029.4 L834.0 1026.8 L835.4 1024.2 L836.9 1021.6 L838.4 1018.9 L840.0 1016.3 L841.5 1013.6 L843.1 1010.9 L844.7 1008.2 L846.3 1005.5 L848.0 1002.8 L849.7 1000.1 L851.4 997.5 L853.2 994.9 L855.0 992.3 L856.8 989.8 L858.7 987.4 L860.7 985.0 L862.7 982.7 L864.8 980.5 L866.9 978.4 L869.1 976.3 L871.3 974.4 L873.6 972.6 L876.0 970.9 L878.5 969.3 L881.0 967.8 L883.6 966.5 L886.2 965.4 L889.0 964.4 L891.8 963.5 L894.6 962.8 L897.4 962.3 L900.3 961.9 L903.2 961.7 L906.1 961.6 L909.0 961.8 L911.9 962.1 L914.7 962.5 L917.6 963.2 L920.3 964.1 L923.1 965.1 L925.7 966.3 L928.4 967.7 L930.9 969.3 L933.4 971.0 L935.9 972.8 L938.3 974.8 L940.6 976.8 L942.9 979.0 L945.2 981.2 L947.4 983.5 L949.6 985.8 L951.8 988.1 L953.9 990.5 L955.9 992.9 L957.9 995.2 L959.9 997.6 L961.9 999.9 L963.8 1002.3 L965.7 1004.6 L967.6 1006.9 L969.5 1009.2 L971.3 1011.6 L973.2 1013.9 L975.0 1016.2 L976.8 1018.5 L978.6 1020.8 L980.3 1023.1 L982.1 1025.4 L983.9 1027.7 L985.7 1030.0 L987.4 1032.3 L989.2 1034.6 L991.0 1037.0 L992.8 1039.3 L994.6 1041.6 L996.4 1044.0 L998.2 1046.3 L1000.1 1048.7 L1001.9 1051.0 L1003.8 1053.4 L1005.7 1055.7 L1007.5 1058.1 L1009.4 1060.4 L1011.4 1062.8 L1013.3 1065.1 L1015.2 1067.5 L1017.2 1069.8 L1019.1 1072.2 L1021.1 1074.5 L1023.1 1076.8 L1025.1 1079.1 L1027.1 1081.4 L1029.2 1083.7 L1031.2 1086.0 L1033.3 1088.2 L1035.4 1090.4 L1037.5 1092.6 L1039.6 1094.8 L1041.8 1096.9 L1044.0 1099.0 L1046.2 1101.1 L1048.4 1103.1 L1050.7 1105.1 L1053.0 1107.0 L1055.3 1108.9 L1057.7 1110.8 L1060.1 1112.5 L1062.5 1114.2 L1065.0 1115.9 L1067.5 1117.5 L1070.1 1119.1 L1072.6 1120.6 L1075.2 1122.0 L1077.9 1123.4 L1080.5 1124.8 L1083.2 1126.1 L1085.9 1127.3 L1088.6 1128.5 L1091.4 1129.6 L1094.2 1130.7 L1097.0 1131.7 L1099.8 1132.7 L1102.6 1133.7 L1105.5 1134.5 L1108.3 1135.4 L1111.2 1136.2 L1114.1 1136.9 L1117.0 1137.6 L1120.0 1138.3 L1122.9 1138.9 L1125.9 1139.4 L1128.8 1139.9 L1131.8 1140.4 L1134.8 1140.8 L1137.7 1141.2 L1140.7 1141.6 L1143.7 1141.9 L1146.7 1142.2 L1149.7 1142.4 L1152.7 1142.6 L1155.7 1142.8 L1158.8 1143.0 L1161.8 1143.1 L1164.8 1143.2 L1167.8 1143.4 L1170.8 1143.5 L1173.9 1143.5 L1176.9 1143.6 L1179.9 1143.7 L1183.0 1143.8 L1186.0 1143.8 L1189.0 1143.9 L1192.1 1144.0 L1195.1 1144.0 L1198.1 1144.1 L1201.1 1144.2 L1204.2 1144.3 L1207.2 1144.5 L1210.2 1144.6 L1213.2 1144.8 L1216.2 1145.0 L1219.2 1145.2 L1222.2 1145.4 L1225.2 1145.7 L1228.2 1146.0 L1231.2 1146.3 L1234.1 1146.7 L1237.1 1147.1 L1240.1 1147.5 L1243.0 1147.9 L1246.0 1148.4 L1248.9 1148.9 L1251.9 1149.4 L1254.8 1150.0 L1257.7 1150.5 L1260.7 1151.1 L1263.6 1151.7 L1266.5 1152.3 L1269.4 1153.0 L1272.4 1153.7 L1275.3 1154.3 L1278.2 1155.0 L1281.1 1155.8 L1284.0 1156.5 L1286.9 1157.2 L1289.8 1158.0 L1292.7 1158.8 L1295.6 1159.6 L1298.5 1160.4 L1301.3 1161.2 L1304.2 1162.0 L1307.1 1162.9 L1310.0 1163.7 L1312.9 1164.6 L1315.8 1165.4 L1318.6 1166.3 L1321.5 1167.2 L1324.4 1168.0 L1327.3 1168.9 L1330.1 1169.8 L1333.0 1170.7 L1335.9 1171.6 L1338.8 1172.5 L1341.6 1173.4 L1344.5 1174.3 L1347.4 1175.2 L1350.3 1176.1 L1353.1 1177.0 L1356.0 1177.9 L1358.9 1178.8 L1361.8 1179.7 L1364.7 1180.5 L1367.5 1181.4 L1370.4 1182.3 L1373.3 1183.2 L1376.2 1184.0 L1379.1 1184.9 L1382.0 1185.7 L1384.9 1186.6 L1387.8 1187.4 L1390.7 1188.2 L1393.5 1189.0 L1396.4 1189.9 L1399.3 1190.7 L1402.2 1191.5 L1405.1 1192.3 L1408.0 1193.1 L1410.9 1193.8 L1413.9 1194.6 L1416.8 1195.4 L1419.7 1196.1 L1422.6 1196.9 L1425.5 1197.6 L1428.4 1198.4 L1431.3 1199.1 L1434.2 1199.9 L1437.1 1200.6 L1440.1 1201.3 L1443.0 1202.0 L1445.9 1202.7 L1448.8 1203.4 L1451.8 1204.1 L1454.7 1204.8 L1457.6 1205.4 L1460.5 1206.1 L1463.5 1206.8 L1466.4 1207.4 L1469.3 1208.0 L1472.3 1208.7 L1475.2 1209.3 L1478.1 1209.9 L1481.1 1210.5 L1484.0 1211.1 L1487.0 1211.7 L1489.9 1212.3 L1492.8 1212.9 L1495.8 1213.5 L1498.7 1214.0 L1501.7 1214.6 L1504.6 1215.1 L1507.6 1215.7 L1510.5 1216.2 L1513.5 1216.7 L1516.4 1217.2 L1519.4 1217.7 L1522.4 1218.2 L1525.3 1218.7 L1528.3 1219.2 L1531.2 1219.7 L1534.2 1220.1 L1537.2 1220.6 L1540.1 1221.0 L1543.1 1221.5 L1546.1 1221.9 L1549.1 1222.3 L1552.0 1222.7 L1555.0 1223.1 L1558.0 1223.5 L1561.0 1223.9 L1563.9 1224.3 L1566.9 1224.7 L1569.9 1225.0 L1572.9 1225.4 L1575.9 1225.7 L1578.9 1226.0 L1581.8 1226.3 L1584.8 1226.6 L1587.8 1226.9 L1590.8 1227.2 L1593.8 1227.5 L1596.8 1227.8 L1599.8 1228.0 L1602.8 1228.3 L1605.8 1228.5 L1608.8 1228.8 L1611.8 1229.0 L1614.8 1229.2 L1617.8 1229.4 L1620.8 1229.6 L1623.8 1229.8 L1626.8 1229.9 L1629.9 1230.1 L1632.9 1230.2 L1635.9 1230.4 L1638.9 1230.5 L1641.9 1230.6 L1644.9 1230.7 L1648.0 1230.8 L1651.0 1230.9 L1654.0 1231.0" stroke="#8000ff"/>
</g>
<rect x="1025.6" y="473" width="363.2" height="552.5" fill="#fff" stroke="#2a2a2a" stroke-width="2.1"/>
<g stroke-width="9" stroke-linecap="butt">
<line x1="1045" y1="517.00" x2="1180.5" y2="517.00" stroke="#000000"/><line x1="1045" y1="595.95" x2="1180.5" y2="595.95" stroke="#ff0000"/><line x1="1045" y1="674.90" x2="1180.5" y2="674.90" stroke="#0000ff"/><line x1="1045" y1="753.85" x2="1180.5" y2="753.85" stroke="#ff00ff"/><line x1="1045" y1="832.80" x2="1180.5" y2="832.80" stroke="#008000"/><line x1="1045" y1="911.75" x2="1180.5" y2="911.75" stroke="#000080"/><line x1="1045" y1="990.70" x2="1180.5" y2="990.70" stroke="#8000ff"/>
</g>
<text transform="translate(128.24,1264.61) scale(0.9340,1)" font-size="69.60">0.0</text><text transform="translate(128.24,1047.01) scale(0.9340,1)" font-size="69.60">0.2</text><text transform="translate(128.24,829.41) scale(0.9340,1)" font-size="69.60">0.4</text><text transform="translate(128.24,611.81) scale(0.9340,1)" font-size="69.60">0.6</text><text transform="translate(128.24,394.21) scale(0.9340,1)" font-size="69.60">0.8</text><text transform="translate(128.24,176.61) scale(0.9340,1)" font-size="69.60">1.0</text><text transform="translate(223.87,1348.90) scale(0.8930,1)" font-size="70.60">200</text><text transform="translate(420.77,1348.90) scale(0.8930,1)" font-size="70.60">250</text><text transform="translate(617.67,1348.90) scale(0.8930,1)" font-size="70.60">300</text><text transform="translate(814.57,1348.90) scale(0.8930,1)" font-size="70.60">350</text><text transform="translate(1011.47,1348.90) scale(0.8930,1)" font-size="70.60">400</text><text transform="translate(1208.37,1348.90) scale(0.8930,1)" font-size="70.60">450</text><text transform="translate(1405.27,1348.90) scale(0.8930,1)" font-size="70.60">500</text><text transform="translate(1602.17,1348.90) scale(0.8930,1)" font-size="70.60">550</text><text transform="translate(386.31,173.50) scale(0.9820,1)" font-size="57.50">229</text><text transform="translate(618.31,717.70) scale(0.9820,1)" font-size="57.50">290</text><text transform="translate(876.87,949.70) scale(0.9820,1)" font-size="57.50">358</text><text transform="translate(763.24,211.80) scale(0.9700,1)" font-size="57.50">TPP3</text><text transform="translate(692.50,1466.80)" font-size="55.70">Wavelength (nm)</text><text transform="translate(81.00,845.70) rotate(-90) scale(1.0150,1)" font-size="55.60">Absorbance (a.u)</text><text transform="translate(1283.50,537.40) scale(0.9460,1)" font-size="61.60" text-anchor="middle">0 min</text><text transform="translate(1283.50,616.35) scale(0.9460,1)" font-size="61.60" text-anchor="middle">10 min</text><text transform="translate(1283.50,695.30) scale(0.9460,1)" font-size="61.60" text-anchor="middle">20 min</text><text transform="translate(1283.50,774.25) scale(0.9460,1)" font-size="61.60" text-anchor="middle">30 min</text><text transform="translate(1283.50,853.20) scale(0.9460,1)" font-size="61.60" text-anchor="middle">40 min</text><text transform="translate(1283.50,932.15) scale(0.9460,1)" font-size="61.60" text-anchor="middle">50 min</text><text transform="translate(1283.50,1011.10) scale(0.9460,1)" font-size="61.60" text-anchor="middle">60 min</text>
</svg>
</body></html>
